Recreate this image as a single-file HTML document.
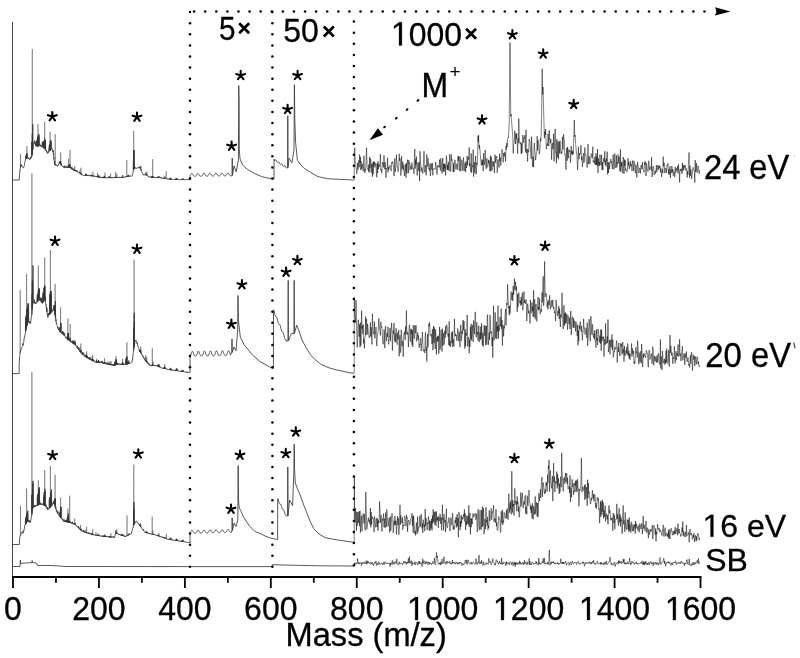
<!DOCTYPE html><html><head><meta charset="utf-8"><style>html,body{margin:0;padding:0;background:#fff;overflow:hidden}svg{display:block}</style></head><body><svg width="800" height="658" viewBox="0 0 800 658">
<defs><filter id="b" x="0" y="0" width="800" height="658" filterUnits="userSpaceOnUse"><feGaussianBlur stdDeviation="0.35"/></filter></defs>
<rect width="800" height="658" fill="#fff"/>
<g filter="url(#b)">
<polyline fill="none" stroke="#3a3a3a" stroke-width="0.85" stroke-linejoin="round" points="12.50,180.00 19.30,180.00 19.48,174.97 19.60,174.91 19.91,170.31 20.03,170.54 20.34,167.82 20.46,167.77 20.77,165.18 20.89,164.27 21.20,165.87 21.32,165.21 21.63,166.19 21.75,165.26 22.06,166.62 22.18,166.71 22.49,167.20 22.61,167.14 22.92,167.39 23.04,167.54 23.35,167.64 23.47,167.61 23.78,167.79 23.90,166.62 24.21,165.63 24.33,165.54 24.64,163.49 24.76,161.97 25.07,161.48 25.19,160.81 25.50,159.22 25.62,159.70 25.61,159.63 25.73,156.82 25.93,158.77 26.05,155.54 26.11,158.44 26.23,154.99 26.36,158.35 26.48,155.25 26.61,158.33 26.73,153.82 26.79,157.56 26.91,152.98 27.22,158.06 27.34,157.23 27.65,158.18 27.77,156.82 28.08,158.30 28.20,157.99 28.51,158.54 28.63,158.97 28.94,158.87 29.06,158.13 29.37,159.16 29.49,159.52 29.80,159.92 29.92,159.78 30.23,158.76 30.35,157.54 30.66,158.42 30.78,156.84 31.09,158.12 31.21,157.79 31.52,156.74 31.64,156.03 31.66,156.73 31.78,142.54 31.95,155.84 32.07,141.65 32.16,154.60 32.28,133.64 32.38,152.96 32.50,135.45 32.66,150.48 32.78,124.31 32.81,149.41 32.93,148.35 33.24,145.72 33.36,145.06 33.67,144.09 33.79,142.91 34.10,142.90 34.22,141.77 34.53,142.27 34.65,140.78 34.96,143.61 35.08,141.79 35.39,144.76 35.51,143.02 35.82,145.78 35.94,145.45 36.25,146.12 36.37,144.81 36.29,146.27 36.41,141.21 36.68,146.17 36.80,140.85 36.79,146.06 36.91,141.10 37.11,146.14 37.23,139.72 37.29,146.30 37.41,138.40 37.54,146.06 37.66,137.00 37.79,146.20 37.91,136.53 37.97,146.25 38.09,137.09 38.29,146.11 38.41,134.44 38.40,146.20 38.52,137.28 38.79,145.53 38.91,136.45 38.83,146.02 38.95,134.33 39.26,145.70 39.38,145.42 39.69,145.81 39.81,144.74 40.12,145.65 40.24,145.12 40.55,146.16 40.67,144.81 40.98,146.30 41.10,145.79 41.41,146.62 41.53,146.68 41.84,146.79 41.96,146.64 42.23,146.82 42.35,143.43 42.27,146.68 42.39,142.20 42.70,146.95 42.82,141.88 42.73,146.85 42.85,142.25 43.13,147.43 43.25,141.44 43.23,147.51 43.35,142.87 43.56,148.07 43.68,142.16 43.73,147.70 43.85,141.08 43.99,147.97 44.11,141.42 44.23,148.73 44.35,140.28 44.42,148.70 44.54,138.32 44.73,148.64 44.85,140.43 44.85,148.85 44.97,140.99 45.23,149.52 45.35,140.19 45.28,149.18 45.40,139.91 45.71,149.84 45.83,149.98 46.14,150.96 46.26,150.14 46.57,152.17 46.69,151.35 47.00,152.50 47.12,152.60 47.43,153.33 47.55,153.93 47.86,153.36 47.98,151.74 48.29,152.63 48.41,151.46 48.72,151.82 48.84,151.57 49.10,151.34 49.22,147.83 49.15,151.48 49.27,145.57 49.58,150.90 49.70,144.25 49.60,150.47 49.72,145.66 50.01,150.60 50.13,144.88 50.10,150.55 50.22,141.40 50.44,149.90 50.56,140.58 50.60,149.72 50.72,140.18 50.87,149.33 50.99,141.02 51.30,148.76 51.42,149.15 51.73,148.13 51.85,147.88 52.16,149.68 52.28,149.74 52.59,150.85 52.71,149.96 53.02,151.98 53.14,150.45 53.45,154.69 53.57,153.01 53.88,158.80 54.00,157.70 54.00,159.87 54.12,160.05 54.31,161.93 54.43,161.46 54.50,163.74 54.62,161.25 54.74,164.64 54.86,164.06 55.17,165.20 55.29,165.35 55.60,165.07 55.72,163.97 56.03,164.94 56.15,165.57 56.46,165.51 56.58,165.77 56.89,165.53 57.01,165.98 57.32,166.22 57.44,165.92 57.75,165.87 57.87,165.99 58.18,164.96 58.30,165.17 58.61,164.00 58.73,163.96 59.04,163.53 59.16,161.61 59.47,162.88 59.59,162.06 59.58,163.41 59.70,161.92 59.90,162.74 60.02,161.75 60.08,162.90 60.20,161.77 60.33,163.68 60.45,161.51 60.58,164.31 60.70,161.27 60.76,164.23 60.88,163.02 61.19,165.59 61.31,164.34 61.62,165.58 61.74,165.38 62.05,166.07 62.17,166.22 62.48,166.56 62.60,166.62 62.91,166.54 63.03,166.60 63.34,166.41 63.46,166.28 63.77,167.35 63.89,166.89 64.20,167.56 64.32,165.63 64.63,167.10 64.75,167.78 65.06,167.73 65.18,166.29 65.49,167.70 65.61,167.87 65.92,167.32 66.04,167.49 66.35,167.94 66.47,167.30 66.78,167.52 66.90,165.70 67.21,167.91 67.33,167.90 67.64,167.93 67.76,167.19 68.07,167.53 68.19,166.72 68.18,167.38 68.30,166.51 68.50,167.30 68.62,165.44 68.68,167.47 68.80,165.29 68.93,167.98 69.05,165.55 69.18,167.27 69.30,165.40 69.36,167.29 69.48,164.36 69.68,167.43 69.80,164.39 69.79,167.88 69.91,164.73 70.22,167.84 70.34,167.89 70.65,168.20 70.77,167.55 71.08,168.47 71.20,168.22 71.51,168.88 71.63,166.96 71.94,169.44 72.06,167.70 72.37,169.31 72.49,169.14 72.80,169.73 72.92,168.81 73.23,169.49 73.35,169.56 73.34,169.78 73.46,169.93 73.66,170.29 73.78,170.00 73.84,170.33 73.96,169.97 74.09,170.54 74.21,169.70 74.34,170.63 74.46,169.81 74.52,170.72 74.64,169.68 74.95,170.91 75.07,170.93 75.38,170.83 75.50,170.89 75.81,171.23 75.93,169.95 76.24,171.12 76.36,171.31 76.67,171.74 76.79,170.58 77.10,171.56 77.22,170.67 77.53,171.89 77.65,172.10 77.96,172.32 78.08,172.29 78.39,172.38 78.51,172.05 78.82,172.59 78.94,172.30 79.25,172.69 79.37,172.92 79.36,172.70 79.48,173.13 79.68,173.27 79.80,173.23 79.86,173.33 79.98,173.31 80.11,173.47 80.23,173.29 80.36,173.95 80.48,173.22 80.54,174.09 80.66,172.92 80.97,174.09 81.09,173.30 81.40,174.51 81.52,173.48 81.83,174.96 81.95,175.06 82.26,175.23 82.38,175.09 82.69,175.34 82.81,175.29 83.12,175.50 83.24,175.52 83.55,175.51 83.67,175.15 83.98,175.33 84.10,175.65 84.41,175.42 84.53,175.02 84.84,175.42 84.96,175.50 85.27,175.44 85.39,174.91 85.38,175.62 85.50,175.09 85.70,175.60 85.82,174.74 85.88,175.79 86.00,174.65 86.13,175.61 86.25,174.28 86.38,175.51 86.50,174.11 86.56,175.76 86.68,175.56 86.99,175.73 87.11,175.03 87.42,175.83 87.54,175.76 87.85,175.61 87.97,174.86 88.28,175.88 88.40,175.37 88.71,175.93 88.83,175.30 89.14,175.85 89.26,175.82 89.57,175.94 89.69,175.77 90.00,176.04 90.12,174.96 90.43,176.11 90.55,175.56 90.86,176.08 90.98,176.12 91.29,175.92 91.41,175.02 91.40,176.17 91.52,175.67 91.72,176.05 91.84,175.53 91.90,175.97 92.02,175.51 92.15,176.06 92.27,175.43 92.40,176.12 92.52,175.32 92.58,176.23 92.70,175.83 93.01,176.22 93.13,176.20 93.44,176.17 93.56,176.07 93.87,176.33 93.99,175.93 94.30,176.54 94.42,175.67 94.73,176.55 94.85,176.65 95.16,176.57 95.28,176.71 95.59,176.80 95.71,176.34 96.02,176.73 96.14,176.23 96.45,176.69 96.57,176.69 96.88,177.01 97.00,176.17 97.31,176.85 97.43,177.08 97.42,176.92 97.54,176.57 97.74,177.12 97.86,176.29 97.92,176.96 98.04,176.04 98.17,177.27 98.29,176.16 98.42,177.23 98.54,175.47 98.60,177.07 98.72,177.22 99.03,177.24 99.15,177.33 99.46,177.30 99.58,176.48 99.89,177.39 100.01,176.96 100.32,177.63 100.44,176.90 100.75,177.53 100.87,177.24 101.18,177.57 101.30,176.93 101.61,177.92 101.73,176.99 102.04,177.88 102.16,177.78 102.47,177.96 102.59,177.16 102.90,178.09 103.02,177.95 103.33,177.84 103.45,177.93 103.44,178.04 103.56,177.46 103.76,177.92 103.88,177.07 103.94,177.80 104.06,176.89 104.19,177.91 104.31,176.76 104.44,177.79 104.56,176.12 104.62,178.05 104.74,177.19 105.05,177.88 105.17,177.32 105.48,178.09 105.60,177.80 105.91,177.85 106.03,178.02 106.34,178.00 106.46,178.07 106.77,177.85 106.89,177.96 107.20,178.07 107.32,177.86 107.63,177.99 107.75,177.85 108.06,177.99 108.18,177.43 108.49,177.92 108.61,177.47 108.92,177.86 109.04,177.19 109.35,177.94 109.47,177.82 109.46,177.81 109.58,177.61 109.78,177.96 109.90,177.51 109.96,177.96 110.08,177.29 110.21,177.94 110.33,177.11 110.46,177.88 110.58,177.04 110.64,177.90 110.76,177.89 111.07,178.06 111.19,177.43 111.50,177.79 111.62,177.90 111.93,177.78 112.05,177.07 112.36,177.83 112.48,178.09 112.79,177.81 112.91,177.13 113.22,177.88 113.34,177.45 113.65,177.91 113.77,177.44 114.08,177.91 114.20,177.33 114.51,178.02 114.63,177.94 114.94,177.79 115.06,177.11 115.37,177.74 115.49,177.93 115.48,177.80 115.60,177.50 115.80,177.92 115.92,177.29 115.98,177.95 116.10,177.24 116.23,177.94 116.35,177.14 116.48,177.68 116.60,177.00 116.66,177.90 116.78,177.54 117.09,177.74 117.21,177.51 117.52,177.83 117.64,177.52 117.95,177.59 118.07,177.57 118.38,177.69 118.50,177.60 118.81,177.75 118.93,176.88 119.24,177.65 119.36,177.15 119.67,177.67 119.79,177.05 120.10,177.64 120.22,177.34 120.53,177.45 120.65,176.89 120.96,177.40 121.08,177.19 121.39,177.43 121.51,177.04 121.50,177.60 121.62,177.28 121.82,177.54 121.94,177.10 122.00,177.60 122.12,177.12 122.25,177.54 122.37,176.93 122.50,177.56 122.62,176.86 122.68,177.50 122.80,177.40 123.11,177.58 123.23,177.48 123.54,177.28 123.66,176.88 123.97,177.50 124.09,177.44 124.40,177.50 124.52,177.32 124.83,177.39 124.95,176.97 125.26,177.12 125.38,176.97 125.69,177.00 125.81,176.47 126.12,176.99 126.24,176.25 126.55,177.04 126.67,176.69 126.98,176.78 127.10,176.91 127.41,176.69 127.53,176.02 127.52,176.73 127.64,176.21 127.84,176.66 127.96,175.62 128.02,176.58 128.14,175.70 128.27,176.34 128.39,175.27 128.52,176.35 128.64,175.28 128.70,176.36 128.82,176.11 129.13,176.22 129.25,176.02 129.56,176.29 129.68,176.34 129.99,176.26 130.11,176.38 130.42,176.08 130.54,175.68 130.85,176.26 130.97,176.03 131.28,176.21 131.40,175.89 131.71,176.14 131.83,176.26 132.14,176.00 132.26,175.56 132.57,174.95 132.69,174.11 133.00,172.34 133.12,172.25 133.31,170.17 133.44,160.51 133.43,169.68 133.55,159.43 133.81,169.36 133.94,150.19 133.86,169.12 133.98,150.03 134.29,168.74 134.41,167.91 134.72,167.99 134.84,167.49 135.15,168.08 135.27,168.05 135.58,168.32 135.70,167.52 136.01,168.47 136.13,168.53 136.44,168.48 136.56,168.57 136.87,168.28 136.99,168.23 137.30,168.07 137.42,167.80 137.73,167.81 137.85,167.79 138.16,167.67 138.28,167.21 138.59,167.62 138.71,167.54 139.02,167.64 139.14,167.45 139.45,167.34 139.57,167.11 139.56,167.50 139.68,168.14 139.88,167.28 140.00,168.14 140.06,167.69 140.18,168.57 140.31,168.30 140.43,168.77 140.56,169.07 140.68,168.96 140.74,169.30 140.86,169.39 141.17,170.60 141.29,169.76 141.60,171.46 141.72,171.50 142.03,172.69 142.15,172.70 142.46,173.50 142.58,173.73 142.89,174.69 143.01,174.61 143.32,174.91 143.44,174.36 143.75,174.90 143.87,174.42 144.18,174.89 144.30,174.85 144.61,174.98 144.73,174.94 145.04,174.77 145.16,174.27 145.47,174.81 145.59,174.72 145.58,174.90 145.70,174.83 145.90,174.81 146.02,174.78 146.08,175.09 146.20,174.87 146.33,175.09 146.45,174.75 146.58,175.22 146.70,174.85 146.76,175.46 146.88,174.91 147.19,175.79 147.31,175.64 147.62,176.06 147.74,175.83 148.05,176.19 148.17,176.00 148.48,176.61 148.60,176.24 148.91,176.70 149.03,176.47 149.34,177.01 149.46,177.12 149.77,177.38 149.89,176.79 150.20,177.26 150.32,176.76 150.63,177.31 150.75,177.02 151.06,177.39 151.18,177.44 151.49,177.57 151.61,176.82 151.60,177.53 151.72,176.65 151.92,177.44 152.04,176.31 152.10,177.51 152.22,176.11 152.35,177.39 152.47,176.07 152.60,177.60 152.72,176.12 152.78,177.41 152.90,176.83 153.21,177.42 153.33,177.62 153.64,177.46 153.76,177.57 154.07,177.70 154.19,176.99 154.50,177.65 154.62,177.73 154.93,177.55 155.05,177.00 155.36,177.56 155.48,177.57 155.79,177.71 155.91,177.65 156.22,177.58 156.34,177.75 156.65,177.72 156.77,177.25 157.08,177.62 157.20,177.75 157.51,177.83 157.63,177.68 157.62,177.71 157.74,177.33 157.94,177.88 158.06,177.00 158.12,177.75 158.24,176.79 158.37,177.72 158.49,177.01 158.62,177.73 158.74,176.36 158.80,177.83 158.92,177.95 159.23,177.75 159.35,177.60 159.66,177.97 159.78,177.70 160.09,177.80 160.21,177.31 160.52,178.08 160.64,177.83 160.95,177.98 161.07,177.55 161.38,178.22 161.50,177.47 161.81,178.22 161.93,178.06 162.24,178.18 162.36,178.33 162.67,178.41 162.79,178.26 163.10,178.29 163.22,178.44 163.53,178.50 163.65,178.18 163.64,178.53 163.76,178.11 163.96,178.46 164.08,177.95 164.14,178.52 164.26,178.07 164.39,178.50 164.51,177.71 164.64,178.51 164.76,177.57 164.82,178.53 164.94,178.24 165.25,178.80 165.37,178.60 165.68,178.80 165.80,178.81 166.11,178.91 166.23,178.93 166.54,178.94 166.66,178.72 166.97,178.90 167.09,178.95 167.40,178.93 167.52,178.54 167.83,179.03 167.95,179.02 168.26,179.22 168.38,178.67 168.69,179.18 168.81,179.25 169.12,179.34 169.24,179.28 169.55,179.45 169.67,179.29 169.66,179.46 169.78,179.25 169.98,179.45 170.10,178.49 170.16,179.48 170.28,178.29 170.41,179.36 170.53,177.97 170.66,179.32 170.78,177.83 170.84,179.46 170.96,178.94 171.27,179.37 171.39,179.53 171.70,179.47 171.82,179.46 172.13,179.34 172.25,179.24 172.56,179.47 172.68,179.45 172.99,179.43 173.11,179.22 173.42,179.46 173.54,179.52 173.85,179.46 173.97,179.32 174.28,179.58 174.40,179.58 174.71,179.45 174.83,178.95 175.14,179.44 175.26,179.11 175.57,179.56 175.69,178.99 175.68,179.51 175.80,179.19 176.00,179.51 176.12,178.48 176.18,179.48 176.30,178.44 176.43,179.63 176.55,178.15 176.68,179.54 176.80,178.22 176.86,179.48 176.98,179.60 177.29,179.62 177.41,179.63 177.72,179.59 177.84,179.03 178.15,179.55 178.27,179.11 178.58,179.67 178.70,179.69 179.01,179.55 179.13,179.57 179.44,179.65 179.56,179.61 179.87,179.68 179.99,179.53 180.30,179.75 180.42,179.30 180.73,179.61 180.85,179.70 181.16,179.68 181.28,179.46 181.59,179.77 181.71,179.65 181.70,179.60 181.82,179.59 182.02,179.69 182.14,179.09 182.20,179.64 182.32,178.84 182.45,179.63 182.57,178.66 182.70,179.76 182.82,178.63 182.88,179.76 183.00,179.50 183.31,179.81 183.43,179.37 183.74,179.68 183.86,179.64 184.17,179.74 184.29,179.66 184.60,179.81 184.72,179.85 185.03,179.75 185.15,179.29 185.46,179.79 185.58,179.75 185.89,179.75 186.01,179.47 186.32,179.86 186.44,179.44 186.75,179.80 186.87,179.85 187.18,179.83 187.30,179.70 187.61,179.88 187.73,179.88 188.04,179.89 188.16,179.55 188.47,179.96 188.59,179.56 188.90,179.94 189.02,179.41 189.33,179.82 189.45,179.79 189.76,179.96 189.88,179.92 190.00,180.00 190.00,180.00 190.10,176.00 190.30,175.40 190.70,174.68 191.10,173.98 191.50,173.50 191.90,173.39 192.30,173.68 192.70,174.29 193.10,175.01 193.50,175.66 193.90,176.10 194.30,176.30 194.70,176.34 195.10,176.32 195.50,176.22 195.90,175.90 196.30,175.35 196.70,174.63 197.10,173.92 197.50,173.43 197.90,173.30 198.30,173.57 198.70,174.16 199.10,174.89 199.50,175.55 199.90,176.00 200.30,176.21 200.70,176.25 201.10,176.24 201.50,176.14 201.90,175.84 202.30,175.29 202.70,174.58 203.10,173.87 203.50,173.36 203.90,173.21 204.30,173.46 204.70,174.04 205.10,174.77 205.50,175.43 205.90,175.90 206.30,176.12 206.70,176.16 207.10,176.15 207.50,176.06 207.90,175.77 208.30,175.24 208.70,174.53 209.10,173.81 209.50,173.29 209.90,173.12 210.30,173.36 210.70,173.92 211.10,174.64 211.50,175.32 211.90,175.79 212.30,176.02 212.70,176.07 213.10,176.07 213.50,175.98 213.90,175.71 214.30,175.18 214.70,174.48 215.10,173.76 215.50,173.22 215.90,173.03 216.30,173.25 216.70,173.80 217.10,174.52 217.50,175.20 217.90,175.69 218.30,175.93 218.70,175.99 219.10,175.98 219.50,175.90 219.90,175.64 220.30,175.13 220.70,174.43 221.10,173.70 221.50,173.15 221.90,172.94 222.30,173.14 222.70,173.68 223.10,174.40 223.50,175.08 223.90,175.58 224.30,175.84 224.70,175.90 225.10,175.90 225.50,175.83 225.90,175.57 226.30,175.07 226.70,174.38 227.10,173.65 227.50,173.09 227.90,172.86 228.30,173.03 228.70,173.56 229.10,174.27 229.50,174.96 229.90,175.48 230.30,175.74 230.70,175.81 231.10,175.81 231.50,175.75 231.90,175.50 232.05,175.50 232.25,158.10 232.45,175.50 234.00,166.00 236.25,171.90 238.40,160.00 238.75,85.60 239.10,102.00 239.30,150.00 240.00,158.75 242.50,165.00 247.50,169.40 255.00,173.75 262.50,176.90 271.25,178.75 273.80,179.00 274.00,179.00 274.10,159.00 274.30,160.50 274.70,160.66 275.10,160.39 275.50,159.90 275.90,159.95 276.30,160.76 276.70,161.74 277.10,162.27 277.50,162.53 277.90,162.50 278.30,162.04 278.70,161.73 279.10,162.19 279.50,163.19 279.90,163.97 280.30,164.32 280.70,164.48 281.10,164.21 281.50,163.72 281.90,163.76 282.30,164.58 282.70,165.55 283.10,166.09 283.50,166.34 283.90,166.32 284.30,165.85 284.70,165.55 285.10,166.01 285.50,167.01 285.90,167.79 286.30,168.14 286.80,167.70 287.60,167.70 287.80,115.70 288.00,167.70 289.00,158.00 291.90,162.90 294.00,150.00 294.40,84.70 294.80,120.00 295.60,142.40 296.40,150.00 297.40,160.20 300.00,164.00 304.20,168.40 311.00,172.50 317.90,176.60 327.50,178.70 338.40,179.30 353.60,180.00"/>
<polyline fill="none" stroke="#3a3a3a" stroke-width="0.85" stroke-linejoin="round" points="12.50,373.60 19.10,373.60 19.28,361.79 19.40,361.73 19.71,355.65 19.83,354.55 20.14,352.28 20.26,351.82 20.57,350.60 20.69,350.46 21.00,349.33 21.12,349.46 21.43,348.86 21.55,347.84 21.86,347.55 21.98,347.30 22.29,346.75 22.41,346.49 22.72,345.87 22.84,343.59 23.15,345.25 23.27,344.66 23.58,342.60 23.70,342.45 24.01,340.01 24.13,338.10 24.44,337.52 24.56,337.83 24.87,335.39 24.99,335.03 25.30,333.80 25.42,333.79 25.43,332.37 25.55,322.45 25.73,330.93 25.85,317.61 25.93,330.33 26.05,316.27 26.16,329.02 26.28,315.42 26.43,327.79 26.55,311.44 26.59,326.85 26.71,310.23 26.93,325.38 27.05,308.54 27.02,325.33 27.14,309.01 27.43,324.48 27.55,308.24 27.45,324.62 27.57,311.10 27.88,323.19 28.00,305.06 27.93,322.67 28.05,303.40 28.31,321.65 28.43,305.71 28.43,321.56 28.55,303.68 28.74,321.97 28.86,321.28 29.17,322.44 29.29,322.38 29.60,322.96 29.72,321.45 30.03,322.66 30.15,323.52 30.46,322.94 30.58,323.30 30.89,320.14 31.01,319.59 31.32,317.18 31.44,316.91 31.75,314.62 31.87,312.90 31.86,313.50 31.98,294.54 32.18,310.34 32.30,281.94 32.36,308.03 32.48,280.01 32.61,305.60 32.73,282.11 32.86,302.35 32.98,265.41 33.04,302.72 33.16,303.04 33.47,302.24 33.59,303.15 33.90,303.21 34.02,303.14 34.33,302.88 34.45,299.73 34.76,303.45 34.88,302.82 35.19,303.20 35.31,302.69 35.62,303.72 35.74,302.28 36.05,303.38 36.17,303.40 36.48,302.81 36.60,302.03 36.91,302.38 37.03,300.83 37.19,301.29 37.30,295.09 37.34,302.01 37.46,296.82 37.69,300.98 37.80,294.03 37.77,301.59 37.89,295.37 38.19,300.57 38.30,292.56 38.20,300.31 38.32,290.80 38.63,300.83 38.75,289.60 38.69,300.10 38.80,288.60 39.06,300.13 39.18,291.36 39.19,299.84 39.30,288.45 39.49,299.03 39.61,298.80 39.92,299.93 40.04,297.54 40.35,300.68 40.47,298.27 40.78,301.01 40.90,297.78 41.21,302.29 41.33,298.38 41.64,302.23 41.76,299.45 42.07,303.27 42.19,300.97 42.50,303.12 42.62,301.76 42.69,303.23 42.80,296.67 42.93,302.02 43.05,292.61 43.19,302.19 43.30,294.08 43.36,301.22 43.48,292.19 43.69,300.57 43.80,292.37 43.79,301.36 43.91,287.89 44.19,300.65 44.30,287.59 44.22,300.96 44.34,287.13 44.65,299.69 44.77,286.61 44.69,299.50 44.80,285.54 45.08,300.36 45.20,296.97 45.51,303.09 45.63,303.35 45.94,305.26 46.06,304.63 46.37,308.48 46.49,306.79 46.80,312.04 46.92,308.08 47.23,314.76 47.35,314.73 47.66,317.37 47.78,317.53 48.09,317.37 48.21,313.32 48.52,315.78 48.64,315.00 48.95,314.59 49.07,314.25 49.00,314.53 49.12,312.82 49.38,314.73 49.50,302.77 49.50,313.72 49.62,302.37 49.81,314.55 49.93,294.09 50.00,313.35 50.12,293.95 50.24,313.76 50.36,291.23 50.50,313.54 50.62,291.02 50.67,312.65 50.79,295.77 51.00,312.38 51.12,294.35 51.10,312.58 51.22,291.36 51.53,312.44 51.65,308.76 51.96,311.69 52.08,310.66 52.39,310.93 52.51,311.21 52.82,309.86 52.94,310.65 53.25,310.02 53.37,308.07 53.68,309.34 53.80,305.12 54.11,308.42 54.23,306.79 54.28,310.66 54.40,307.11 54.54,311.12 54.66,305.52 54.78,313.97 54.90,307.16 54.97,314.68 55.09,305.64 55.28,316.29 55.40,300.99 55.40,318.25 55.52,313.72 55.83,321.00 55.95,319.35 56.26,323.15 56.38,322.70 56.69,324.13 56.81,324.32 57.12,325.85 57.24,325.95 57.55,326.57 57.67,327.44 57.98,328.54 58.10,327.21 58.41,329.69 58.53,328.46 58.84,329.97 58.96,328.74 59.27,330.74 59.39,330.66 59.70,330.66 59.82,331.52 59.86,331.92 59.98,327.41 60.13,332.13 60.25,326.91 60.36,332.10 60.48,326.11 60.56,332.05 60.68,322.84 60.86,332.35 60.98,323.38 60.99,332.00 61.11,332.39 61.42,332.98 61.54,333.32 61.85,333.48 61.97,332.87 62.28,333.83 62.40,331.10 62.71,334.34 62.83,333.65 63.14,334.26 63.26,331.70 63.57,335.03 63.69,332.86 64.00,335.48 64.12,335.91 64.43,335.35 64.55,333.34 64.86,335.93 64.98,336.15 65.29,336.97 65.41,337.64 65.72,337.68 65.84,337.68 66.15,337.50 66.27,338.25 66.58,337.79 66.70,338.32 67.01,338.84 67.13,339.26 67.10,338.54 67.22,336.06 67.44,339.11 67.56,335.30 67.60,339.49 67.72,335.46 67.87,339.99 67.99,332.99 68.10,340.00 68.22,332.94 68.30,340.32 68.42,333.32 68.73,339.92 68.85,337.57 69.16,340.66 69.28,340.15 69.59,340.74 69.71,338.79 70.02,340.68 70.14,338.03 70.45,341.37 70.57,340.77 70.88,342.19 71.00,340.84 71.31,342.00 71.43,341.62 71.74,342.37 71.86,341.42 72.17,342.20 72.29,341.96 72.60,343.49 72.72,340.73 73.03,342.72 73.15,340.76 73.34,343.63 73.46,343.19 73.46,343.82 73.58,343.28 73.84,343.73 73.96,343.21 73.89,343.38 74.01,342.69 74.32,343.52 74.44,342.35 74.34,344.32 74.46,342.33 74.75,344.37 74.87,341.80 75.18,344.90 75.30,341.79 75.61,344.99 75.73,345.78 76.04,345.40 76.16,346.34 76.47,346.11 76.59,345.98 76.90,347.00 77.02,347.62 77.33,348.10 77.45,345.97 77.76,348.67 77.88,346.91 78.19,348.99 78.31,348.75 78.62,349.87 78.74,348.05 79.05,349.67 79.17,350.29 79.36,350.49 79.48,351.05 79.48,350.37 79.60,351.15 79.86,351.35 79.98,351.34 79.91,351.55 80.03,351.27 80.34,351.65 80.46,351.18 80.36,351.60 80.48,351.24 80.77,351.93 80.89,350.43 81.20,353.26 81.32,350.13 81.63,353.11 81.75,353.89 82.06,354.48 82.18,354.39 82.49,354.01 82.61,352.38 82.92,354.81 83.04,352.49 83.35,354.57 83.47,354.82 83.78,355.26 83.90,353.65 84.21,356.02 84.33,356.23 84.64,355.54 84.76,356.51 85.07,356.62 85.19,356.39 85.38,356.79 85.50,356.03 85.50,356.08 85.62,355.96 85.88,357.07 86.00,355.38 85.93,356.95 86.05,355.28 86.36,357.31 86.48,355.07 86.38,357.34 86.50,354.52 86.79,357.30 86.91,355.79 87.22,358.10 87.34,356.30 87.65,357.50 87.77,357.19 88.08,358.58 88.20,357.39 88.51,358.74 88.63,359.02 88.94,359.26 89.06,357.24 89.37,358.89 89.49,359.48 89.80,359.33 89.92,357.17 90.23,359.73 90.35,358.45 90.66,359.76 90.78,359.76 91.09,360.01 91.21,360.11 91.40,359.76 91.52,359.89 91.52,360.56 91.64,359.62 91.90,360.11 92.02,359.57 91.95,360.64 92.07,359.42 92.38,360.51 92.50,359.35 92.40,360.38 92.52,358.82 92.81,360.68 92.93,361.12 93.24,360.85 93.36,359.44 93.67,361.40 93.79,359.99 94.10,361.47 94.22,361.96 94.53,362.15 94.65,362.21 94.96,362.32 95.08,361.72 95.39,361.81 95.51,361.68 95.82,361.92 95.94,362.35 96.25,362.56 96.37,360.08 96.68,362.13 96.80,361.97 97.11,362.51 97.23,361.18 97.42,362.49 97.54,361.63 97.54,362.40 97.66,361.77 97.92,362.23 98.04,361.11 97.97,362.78 98.09,361.01 98.40,362.66 98.52,360.53 98.42,362.87 98.54,360.38 98.83,362.41 98.95,361.73 99.26,363.01 99.38,363.00 99.69,362.48 99.81,361.21 100.12,362.53 100.24,362.98 100.55,362.86 100.67,362.63 100.98,363.04 101.10,362.56 101.41,362.93 101.53,361.53 101.84,362.98 101.96,361.45 102.27,363.11 102.39,361.54 102.70,363.14 102.82,362.81 103.13,363.11 103.25,363.60 103.44,363.07 103.56,363.04 103.56,363.25 103.68,363.00 103.94,363.44 104.06,362.38 103.99,363.28 104.11,362.71 104.42,363.70 104.54,362.23 104.44,363.28 104.56,361.93 104.85,363.70 104.97,363.91 105.28,363.90 105.40,362.93 105.71,363.79 105.83,362.34 106.14,364.16 106.26,364.21 106.57,364.07 106.69,364.24 107.00,364.37 107.12,362.70 107.43,364.41 107.55,364.42 107.86,364.37 107.98,363.77 108.29,364.64 108.41,364.19 108.72,364.54 108.84,363.35 109.15,364.89 109.27,363.34 109.46,364.76 109.58,364.63 109.58,364.60 109.70,364.52 109.96,364.99 110.08,364.44 110.01,364.58 110.13,364.38 110.44,364.64 110.56,364.13 110.46,365.02 110.58,364.19 110.87,364.83 110.99,365.09 111.30,365.02 111.42,363.99 111.73,365.20 111.85,364.17 112.16,365.18 112.28,364.10 112.59,365.33 112.71,365.44 113.02,365.64 113.14,364.77 113.45,365.41 113.57,364.19 113.88,365.71 114.00,365.73 114.31,365.18 114.43,365.69 114.63,365.13 114.75,363.16 114.74,365.52 114.86,362.48 115.13,365.28 115.25,361.98 115.17,365.21 115.29,360.96 115.48,365.02 115.60,361.36 115.60,364.90 115.72,361.26 115.63,364.88 115.75,360.41 115.98,364.73 116.10,360.44 116.03,364.66 116.15,358.84 116.46,364.55 116.58,362.89 116.48,364.60 116.60,363.19 116.89,364.72 117.01,363.69 117.32,364.21 117.44,364.62 117.75,364.49 117.87,363.09 118.18,364.43 118.30,363.75 118.61,364.08 118.73,364.39 119.04,364.20 119.16,363.67 119.47,364.22 119.59,364.36 119.90,364.47 120.02,363.73 120.33,364.55 120.45,364.09 120.76,364.61 120.88,363.95 121.19,364.31 121.31,364.24 121.50,364.46 121.62,364.14 121.62,364.36 121.74,364.21 122.00,364.33 122.12,363.80 122.05,364.34 122.17,363.64 122.48,364.45 122.60,363.50 122.50,364.80 122.62,363.73 122.91,364.53 123.03,363.74 123.34,364.74 123.46,363.43 123.77,364.54 123.89,364.36 124.20,364.54 124.32,364.20 124.63,364.58 124.75,364.59 125.06,364.58 125.18,363.78 125.49,364.46 125.61,364.49 125.60,364.57 125.72,361.14 125.92,364.45 126.04,358.49 126.10,364.52 126.22,358.58 126.35,364.38 126.47,357.82 126.60,364.28 126.72,356.30 126.78,364.38 126.90,356.84 127.21,364.06 127.33,362.89 127.52,364.09 127.64,363.28 127.64,364.10 127.76,362.87 128.02,363.85 128.14,362.12 128.07,363.78 128.19,362.20 128.50,363.53 128.62,362.08 128.52,363.86 128.64,361.42 128.93,363.57 129.05,363.18 129.36,363.50 129.48,363.42 129.79,363.26 129.91,363.34 130.22,363.29 130.34,362.94 130.65,363.05 130.77,362.96 131.08,362.67 131.20,362.21 131.51,362.46 131.63,362.35 131.94,362.38 132.06,361.78 132.37,359.68 132.49,360.06 132.80,356.54 132.92,356.53 133.23,352.80 133.35,352.40 133.63,350.17 133.75,334.63 133.66,350.10 133.78,327.79 134.09,347.02 134.21,321.20 134.13,346.96 134.25,312.82 134.52,344.16 134.64,344.04 134.95,341.69 135.07,341.36 135.38,340.92 135.50,340.00 135.81,340.63 135.93,340.60 136.24,341.24 136.36,340.94 136.67,342.35 136.79,342.50 137.10,343.74 137.22,342.57 137.53,344.91 137.65,345.03 137.96,346.43 138.08,346.23 138.39,347.39 138.51,347.69 138.82,348.77 138.94,348.97 139.25,350.01 139.37,349.96 139.56,351.05 139.68,350.60 139.68,351.25 139.80,350.73 140.06,351.88 140.18,350.78 140.11,351.83 140.23,350.73 140.54,352.76 140.66,350.26 140.56,352.46 140.68,350.36 140.97,353.39 141.09,352.35 141.40,354.12 141.52,354.16 141.83,354.86 141.95,354.90 142.26,355.35 142.38,354.57 142.69,356.20 142.81,356.03 143.12,356.87 143.24,356.40 143.55,357.58 143.67,357.14 143.98,358.53 144.10,358.02 144.41,359.06 144.53,358.60 144.84,359.96 144.96,359.95 145.27,360.56 145.39,360.08 145.58,360.94 145.70,360.78 145.70,360.95 145.82,360.83 146.08,361.49 146.20,361.01 146.13,361.54 146.25,360.94 146.56,362.04 146.68,360.98 146.58,362.06 146.70,360.71 146.99,362.45 147.11,361.99 147.42,363.00 147.54,362.70 147.85,363.52 147.97,362.72 148.28,363.81 148.40,362.94 148.71,364.30 148.83,363.41 149.14,364.84 149.26,364.73 149.57,365.26 149.69,364.40 150.00,365.85 150.12,365.61 150.43,365.76 150.55,365.83 150.86,365.62 150.98,365.55 151.29,365.74 151.41,365.85 151.60,365.81 151.72,365.40 151.72,365.60 151.84,365.23 152.10,365.84 152.22,365.11 152.15,365.72 152.27,364.84 152.58,365.67 152.70,364.85 152.60,365.65 152.72,364.36 153.01,365.65 153.13,364.78 153.44,365.63 153.56,365.69 153.87,365.87 153.99,365.42 154.30,365.58 154.42,365.66 154.73,365.78 154.85,365.31 155.16,365.67 155.28,365.24 155.59,365.75 155.71,365.83 156.02,365.86 156.14,365.11 156.45,366.02 156.57,365.61 156.88,365.99 157.00,366.08 157.31,366.15 157.43,366.18 157.62,366.34 157.74,365.51 157.74,366.45 157.86,365.66 158.12,366.55 158.24,364.86 158.17,366.62 158.29,365.38 158.60,366.80 158.72,364.60 158.62,366.71 158.74,364.63 159.03,366.86 159.15,366.73 159.46,367.03 159.58,366.34 159.89,367.49 160.01,366.79 160.32,367.62 160.44,367.68 160.75,367.76 160.87,367.47 161.18,367.75 161.30,367.99 161.61,368.16 161.73,367.93 162.04,368.10 162.16,368.02 162.47,368.26 162.59,367.91 162.90,368.40 163.02,368.59 163.33,368.60 163.45,368.51 163.64,368.64 163.76,368.46 163.76,368.71 163.88,367.61 164.14,368.75 164.26,367.38 164.19,368.72 164.31,367.22 164.62,368.72 164.74,367.24 164.64,368.93 164.76,366.67 165.05,368.79 165.17,368.71 165.48,369.03 165.60,368.33 165.91,368.95 166.03,369.12 166.34,369.13 166.46,368.71 166.77,369.16 166.89,369.15 167.20,369.26 167.32,369.41 167.63,369.43 167.75,368.90 168.06,369.47 168.18,369.46 168.49,369.64 168.61,369.53 168.92,369.62 169.04,369.71 169.35,369.79 169.47,369.87 169.66,369.72 169.78,369.72 169.78,369.86 169.90,369.40 170.16,369.83 170.28,369.14 170.21,369.85 170.33,369.15 170.64,370.14 170.76,368.54 170.66,370.12 170.78,368.68 171.07,370.05 171.19,369.97 171.50,370.07 171.62,370.04 171.93,370.34 172.05,369.61 172.36,370.27 172.48,370.42 172.79,370.44 172.91,370.32 173.22,370.42 173.34,369.78 173.65,370.48 173.77,370.51 174.08,370.48 174.20,370.33 174.51,370.61 174.63,370.52 174.94,370.58 175.06,370.75 175.37,370.86 175.49,370.10 175.68,370.65 175.80,370.34 175.80,370.71 175.92,369.69 176.18,370.72 176.30,369.63 176.23,370.76 176.35,369.48 176.66,370.88 176.78,368.66 176.68,370.79 176.80,368.47 177.09,370.97 177.21,370.84 177.52,371.04 177.64,370.43 177.95,371.15 178.07,370.53 178.38,371.17 178.50,371.16 178.81,371.21 178.93,371.18 179.24,371.34 179.36,371.30 179.67,371.40 179.79,371.25 180.10,371.40 180.22,371.34 180.53,371.46 180.65,370.82 180.96,371.39 181.08,371.25 181.39,371.61 181.51,371.44 181.70,371.52 181.82,371.38 181.82,371.56 181.94,370.73 182.20,371.66 182.32,370.22 182.25,371.68 182.37,370.05 182.68,371.79 182.80,369.95 182.70,371.64 182.82,370.06 183.11,371.69 183.23,371.49 183.54,371.83 183.66,371.82 183.97,371.99 184.09,371.69 184.40,371.94 184.52,371.76 184.83,372.06 184.95,371.92 185.26,372.18 185.38,372.11 185.69,372.21 185.81,371.90 186.12,372.09 186.24,372.29 186.55,372.29 186.67,371.75 186.98,372.38 187.10,372.19 187.41,372.42 187.53,371.77 187.84,372.38 187.96,371.99 188.27,372.59 188.39,372.60 188.70,372.59 188.82,372.39 189.13,372.39 189.25,371.98 189.56,372.54 189.68,372.26 190.00,372.60 190.00,372.60 190.10,354.70 190.30,355.89 190.70,355.14 191.10,354.04 191.50,352.81 191.90,351.79 192.30,351.28 192.70,351.45 193.10,352.23 193.50,353.38 193.90,354.57 194.30,355.49 194.70,356.02 195.10,356.19 195.50,356.20 195.90,356.13 196.30,355.80 196.70,355.07 197.10,353.98 197.50,352.75 197.90,351.71 198.30,351.17 198.70,351.30 199.10,352.06 199.50,353.20 199.90,354.39 200.30,355.34 200.70,355.88 201.10,356.07 201.50,356.08 201.90,356.02 202.30,355.71 202.70,355.00 203.10,353.92 203.50,352.69 203.90,351.64 204.30,351.07 204.70,351.16 205.10,351.89 205.50,353.02 205.90,354.22 206.30,355.18 206.70,355.75 207.10,355.95 207.50,355.96 207.90,355.91 208.30,355.61 208.70,354.93 209.10,353.87 209.50,352.64 209.90,351.56 210.30,350.96 210.70,351.02 211.10,351.72 211.50,352.84 211.90,354.04 212.30,355.02 212.70,355.61 213.10,355.83 213.50,355.84 213.90,355.80 214.30,355.52 214.70,354.85 215.10,353.81 215.50,352.58 215.90,351.49 216.30,350.86 216.70,350.89 217.10,351.56 217.50,352.66 217.90,353.87 218.30,354.87 218.70,355.47 219.10,355.70 219.50,355.73 219.90,355.68 220.30,355.42 220.70,354.78 221.10,353.75 221.50,352.52 221.90,351.42 222.30,350.76 222.70,350.75 223.10,351.39 223.50,352.48 223.90,353.69 224.30,354.71 224.70,355.33 225.10,355.58 225.50,355.61 225.90,355.57 226.30,355.32 226.70,354.70 227.10,353.69 227.50,352.46 227.90,351.34 228.30,350.66 228.70,350.62 229.10,351.23 229.50,352.30 229.90,353.52 230.30,354.55 230.70,355.20 231.20,352.50 231.80,352.50 232.00,338.90 232.20,352.50 234.00,347.00 236.00,350.80 237.70,330.00 238.00,295.50 238.40,320.00 240.30,337.00 244.30,344.90 252.20,354.70 260.10,361.70 272.00,368.20 273.30,368.50 273.40,368.50 273.50,310.20 273.70,309.80 274.10,311.24 274.50,313.18 274.90,314.75 275.30,315.81 275.70,316.66 276.10,316.98 276.50,316.95 276.90,317.41 277.30,318.86 277.70,320.79 278.10,322.37 278.50,323.42 278.90,324.27 279.30,324.60 279.70,324.57 280.10,325.03 280.50,326.47 280.90,328.40 281.30,329.98 281.70,331.03 282.10,331.88 282.50,332.21 282.90,332.18 283.30,332.64 283.70,334.08 284.10,336.02 284.50,337.59 284.90,338.65 285.30,339.50 285.70,339.82 286.10,339.79 286.10,341.00 288.00,341.00 288.20,280.40 288.40,341.00 291.40,333.60 294.00,333.60 294.20,280.40 294.40,333.60 296.70,325.10 299.00,331.00 302.00,340.00 306.00,347.50 310.60,354.90 315.00,359.50 321.20,364.50 328.00,367.50 336.10,369.80 351.00,373.00 354.00,373.20"/>
<polyline fill="none" stroke="#3a3a3a" stroke-width="0.85" stroke-linejoin="round" points="12.50,544.50 19.30,544.50 19.48,539.44 19.60,539.48 19.91,536.79 20.03,536.24 20.34,535.47 20.46,535.59 20.77,534.69 20.89,534.28 21.20,533.89 21.32,532.91 21.63,532.85 21.75,532.68 22.06,531.97 22.18,531.76 22.49,532.18 22.61,531.48 22.92,533.27 23.04,533.35 23.35,532.62 23.47,531.61 23.78,530.29 23.90,530.89 24.21,528.78 24.33,528.64 24.64,526.70 24.76,525.31 25.07,525.17 25.19,524.98 25.30,524.80 25.42,520.78 25.50,524.84 25.62,519.20 25.80,523.77 25.92,517.30 25.93,523.72 26.05,518.13 26.30,522.99 26.42,516.65 26.36,523.22 26.48,515.10 26.79,522.17 26.91,513.33 26.80,522.04 26.92,513.81 27.22,521.33 27.34,513.51 27.30,521.61 27.42,511.65 27.65,520.80 27.77,510.84 28.08,521.20 28.20,520.57 28.51,521.42 28.63,520.33 28.94,521.75 29.06,520.13 29.37,521.98 29.49,521.31 29.80,522.44 29.92,521.50 30.23,522.38 30.35,522.72 30.66,521.11 30.78,520.01 31.09,519.04 31.21,517.16 31.52,516.75 31.64,515.06 31.86,514.37 31.98,494.89 31.95,513.53 32.07,495.20 32.36,510.92 32.48,483.85 32.38,511.08 32.50,491.14 32.81,508.33 32.93,483.31 32.86,507.53 32.98,480.79 33.24,507.62 33.36,507.73 33.67,507.03 33.79,506.82 34.10,506.93 34.22,505.18 34.53,506.84 34.65,506.99 34.96,506.99 35.08,505.61 35.39,506.56 35.51,505.48 35.82,506.14 35.94,505.53 36.25,506.03 36.37,505.08 36.68,506.05 36.80,505.19 37.11,505.89 37.23,505.13 37.19,505.55 37.30,497.50 37.54,505.48 37.66,494.55 37.69,505.31 37.80,497.20 37.97,505.00 38.09,495.17 38.19,505.16 38.30,493.28 38.40,505.05 38.52,489.31 38.69,504.94 38.80,491.32 38.83,505.05 38.95,489.84 39.19,504.25 39.30,487.79 39.26,504.35 39.38,487.33 39.69,504.16 39.81,502.46 40.12,504.18 40.24,503.16 40.55,504.60 40.67,502.89 40.98,504.53 41.10,503.94 41.41,504.36 41.53,504.45 41.84,504.32 41.96,504.33 42.27,504.72 42.39,503.64 42.70,504.68 42.82,504.21 43.13,505.11 43.25,503.61 43.45,504.91 43.57,498.74 43.56,504.84 43.68,497.36 43.95,505.38 44.07,495.48 43.99,505.36 44.11,492.44 44.42,505.53 44.54,493.96 44.45,505.58 44.57,492.65 44.85,505.18 44.97,488.98 44.95,505.65 45.07,491.37 45.28,505.75 45.40,504.99 45.71,507.02 45.83,504.41 46.14,507.08 46.26,506.73 46.57,507.99 46.69,508.44 47.00,508.51 47.12,508.94 47.43,509.36 47.55,507.29 47.86,509.97 47.98,510.02 48.29,508.89 48.41,508.86 48.72,508.62 48.84,508.86 49.00,508.69 49.12,508.19 49.15,508.51 49.27,499.92 49.50,507.78 49.62,499.59 49.58,507.68 49.70,498.76 50.00,507.81 50.12,496.89 50.01,507.19 50.13,497.18 50.44,506.69 50.56,494.83 50.50,507.16 50.62,497.58 50.87,506.50 50.99,491.94 51.00,506.40 51.12,492.63 51.30,506.08 51.42,489.51 51.73,505.64 51.85,504.96 52.16,505.28 52.28,503.97 52.59,504.45 52.71,503.38 53.02,503.99 53.14,502.36 53.45,503.36 53.57,503.83 53.88,502.70 54.00,500.91 54.25,503.29 54.37,500.24 54.31,503.25 54.43,500.53 54.74,504.79 54.86,500.26 54.75,504.72 54.87,498.05 55.17,507.14 55.29,498.75 55.60,508.55 55.72,506.39 56.03,509.96 56.15,509.89 56.46,511.04 56.58,509.60 56.89,511.47 57.01,511.05 57.32,512.92 57.44,511.13 57.75,513.43 57.87,511.67 58.18,514.19 58.30,513.84 58.61,514.78 58.73,515.13 59.04,515.66 59.16,515.84 59.47,516.10 59.59,516.44 59.86,516.34 59.98,511.84 59.90,516.61 60.02,513.15 60.33,517.48 60.45,509.09 60.36,517.08 60.48,510.43 60.76,517.78 60.88,506.98 60.86,517.71 60.98,506.81 61.19,518.12 61.31,518.08 61.62,518.59 61.74,517.94 62.05,519.41 62.17,518.66 62.48,519.43 62.60,519.40 62.91,520.59 63.03,520.49 63.34,520.51 63.46,521.22 63.77,521.54 63.89,519.00 64.20,521.95 64.32,521.74 64.63,521.79 64.75,520.91 65.06,522.09 65.18,520.22 65.49,521.95 65.61,520.08 65.92,521.75 66.04,520.42 66.35,522.07 66.47,520.11 66.78,522.09 66.90,521.26 67.10,522.19 67.22,519.18 67.21,521.88 67.33,517.49 67.60,522.14 67.72,518.00 67.64,522.57 67.76,517.12 68.07,522.12 68.19,516.24 68.10,522.34 68.22,513.41 68.50,522.42 68.62,522.19 68.93,522.30 69.05,520.89 69.36,522.80 69.48,522.92 69.79,522.68 69.91,520.95 70.22,522.61 70.34,521.82 70.65,522.79 70.77,522.04 71.08,523.33 71.20,522.46 71.51,522.89 71.63,523.45 71.94,523.27 72.06,523.80 72.37,523.77 72.49,521.83 72.80,523.79 72.92,524.07 73.23,523.89 73.35,523.76 73.34,523.56 73.46,523.63 73.66,523.67 73.78,523.57 73.84,523.74 73.96,523.51 74.09,523.98 74.21,523.19 74.34,524.28 74.46,523.25 74.52,524.20 74.64,523.28 74.95,524.75 75.07,523.06 75.38,524.82 75.50,524.64 75.81,525.07 75.93,525.67 76.24,525.91 76.36,525.44 76.67,526.02 76.79,526.24 77.10,526.72 77.22,526.87 77.53,527.12 77.65,526.91 77.96,527.30 78.08,526.27 78.39,527.64 78.51,526.15 78.82,528.30 78.94,528.16 79.25,528.77 79.37,528.83 79.36,528.55 79.48,528.91 79.68,529.11 79.80,529.05 79.86,528.87 79.98,528.98 80.11,529.70 80.23,529.15 80.36,529.66 80.48,528.84 80.54,529.74 80.66,529.55 80.97,530.51 81.09,529.14 81.40,530.36 81.52,528.97 81.83,531.08 81.95,530.81 82.26,531.36 82.38,531.43 82.69,531.54 82.81,531.68 83.12,531.70 83.24,530.28 83.55,532.04 83.67,530.65 83.98,532.21 84.10,530.66 84.41,532.00 84.53,532.23 84.84,532.49 84.96,532.24 85.27,532.25 85.39,532.65 85.38,532.70 85.50,532.48 85.70,532.40 85.82,532.26 85.88,532.79 86.00,532.33 86.13,532.54 86.25,532.09 86.38,532.77 86.50,532.03 86.56,532.59 86.68,532.43 86.99,533.21 87.11,532.58 87.42,533.08 87.54,533.36 87.85,533.21 87.97,532.45 88.28,533.52 88.40,532.58 88.71,533.68 88.83,533.43 89.14,533.82 89.26,533.57 89.57,534.01 89.69,532.85 90.00,533.88 90.12,534.07 90.43,534.20 90.55,533.97 90.86,534.09 90.98,533.02 91.29,534.57 91.41,534.49 91.40,534.42 91.52,534.10 91.72,534.52 91.84,533.98 91.90,534.46 92.02,533.73 92.15,534.58 92.27,533.76 92.40,534.88 92.52,533.71 92.58,534.89 92.70,534.92 93.01,534.85 93.13,534.03 93.44,534.89 93.56,534.60 93.87,535.14 93.99,535.03 94.30,534.88 94.42,535.12 94.73,535.13 94.85,535.04 95.16,535.08 95.28,535.20 95.59,535.30 95.71,534.68 96.02,535.37 96.14,535.05 96.45,535.36 96.57,535.03 96.88,535.32 97.00,535.10 97.31,535.72 97.43,534.55 97.42,535.74 97.54,535.33 97.74,535.50 97.86,535.20 97.92,535.62 98.04,535.02 98.17,535.57 98.29,535.11 98.42,535.81 98.54,534.75 98.60,535.94 98.72,535.07 99.03,535.73 99.15,535.93 99.46,536.05 99.58,536.09 99.89,535.91 100.01,535.73 100.32,536.23 100.44,535.68 100.75,536.06 100.87,536.14 101.18,536.32 101.30,536.14 101.61,536.37 101.73,536.47 102.04,536.52 102.16,535.43 102.47,536.27 102.59,536.10 102.90,536.58 103.02,535.96 103.33,536.71 103.45,536.12 103.44,536.68 103.56,536.16 103.76,536.50 103.88,535.80 103.94,536.69 104.06,535.69 104.19,536.49 104.31,535.47 104.44,536.68 104.56,535.51 104.62,536.85 104.74,536.81 105.05,536.90 105.17,536.18 105.48,536.92 105.60,536.39 105.91,536.72 106.03,536.33 106.34,536.89 106.46,535.93 106.77,536.92 106.89,536.77 107.20,536.82 107.32,536.39 107.63,537.02 107.75,537.09 108.06,537.09 108.18,537.15 108.49,536.87 108.61,536.46 108.92,537.22 109.04,536.10 109.35,536.97 109.47,536.98 109.46,537.16 109.58,536.91 109.78,537.01 109.90,536.71 109.96,537.15 110.08,536.79 110.21,537.28 110.33,536.70 110.46,537.28 110.58,536.45 110.64,537.26 110.76,536.54 111.07,537.20 111.19,537.33 111.50,537.43 111.62,537.30 111.93,537.43 112.05,536.34 112.36,537.36 112.48,537.47 112.79,537.29 112.91,537.56 113.22,537.58 113.34,537.57 113.65,537.45 113.77,536.55 114.08,537.36 114.20,536.65 114.51,537.59 114.63,536.89 114.94,536.13 115.06,535.57 115.37,534.43 115.49,534.71 115.48,534.09 115.60,533.55 115.80,533.00 115.92,532.62 115.98,532.75 116.10,532.41 116.23,532.98 116.35,532.40 116.48,533.25 116.60,532.12 116.66,533.44 116.78,533.18 117.09,533.84 117.21,533.33 117.52,534.02 117.64,533.91 117.95,534.45 118.07,534.33 118.38,534.39 118.50,534.62 118.81,534.51 118.93,533.89 119.24,534.72 119.36,534.27 119.67,534.76 119.79,535.03 120.10,534.96 120.22,534.83 120.53,535.07 120.65,535.27 120.96,535.14 121.08,535.38 121.39,535.41 121.51,534.93 121.50,535.54 121.62,534.81 121.82,535.68 121.94,534.61 122.00,535.67 122.12,534.59 122.25,535.71 122.37,534.47 122.50,535.91 122.62,534.36 122.68,535.66 122.80,535.77 123.11,535.97 123.23,535.45 123.54,536.20 123.66,536.14 123.97,536.16 124.09,536.09 124.40,536.35 124.52,535.71 124.83,536.38 124.95,535.81 125.26,536.66 125.38,535.95 125.69,536.59 125.81,536.31 126.12,536.41 126.24,535.96 126.55,536.15 126.67,535.87 126.98,535.93 127.10,535.65 127.41,535.64 127.53,535.77 127.52,535.55 127.64,535.22 127.84,535.40 127.96,535.03 128.02,535.43 128.14,534.86 128.27,535.13 128.39,534.67 128.52,534.99 128.64,534.57 128.70,535.11 128.82,534.40 129.13,534.81 129.25,534.79 129.56,534.53 129.68,534.22 129.99,534.43 130.11,534.03 130.42,534.19 130.54,534.08 130.85,533.81 130.97,533.38 131.28,533.54 131.40,533.63 131.71,532.20 131.83,532.15 132.14,530.41 132.26,530.38 132.57,528.86 132.69,528.10 133.00,527.24 133.12,527.36 133.33,525.95 133.45,526.18 133.43,525.88 133.55,513.77 133.83,524.95 133.95,508.79 133.86,525.09 133.98,502.02 134.29,524.12 134.41,523.41 134.72,523.59 134.84,523.42 135.15,522.71 135.27,522.78 135.58,522.02 135.70,521.98 136.01,521.05 136.13,521.17 136.44,521.07 136.56,521.33 136.87,521.69 136.99,521.61 137.30,522.19 137.42,522.11 137.73,522.94 137.85,522.94 138.16,523.43 138.28,523.23 138.59,524.05 138.71,523.95 139.02,524.55 139.14,524.67 139.45,525.02 139.57,524.55 139.56,525.13 139.68,525.21 139.88,525.75 140.00,525.23 140.06,525.84 140.18,525.47 140.31,526.23 140.43,525.10 140.56,526.61 140.68,524.89 140.74,526.97 140.86,526.64 141.17,527.31 141.29,527.36 141.60,528.10 141.72,528.11 142.03,528.58 142.15,528.71 142.46,529.15 142.58,528.86 142.89,529.68 143.01,529.12 143.32,530.28 143.44,529.98 143.75,531.00 143.87,530.69 144.18,531.42 144.30,531.57 144.61,532.06 144.73,532.08 145.04,532.58 145.16,532.28 145.47,532.82 145.59,532.78 145.58,532.73 145.70,532.52 145.90,532.95 146.02,532.25 146.08,532.98 146.20,532.30 146.33,533.00 146.45,532.04 146.58,533.07 146.70,531.76 146.76,533.01 146.88,532.72 147.19,533.08 147.31,532.47 147.62,533.22 147.74,532.58 148.05,533.38 148.17,533.47 148.48,533.47 148.60,533.01 148.91,533.63 149.03,533.19 149.34,533.66 149.46,533.30 149.77,533.84 149.89,533.06 150.20,533.75 150.32,533.76 150.63,533.93 150.75,533.84 151.06,534.12 151.18,533.98 151.49,534.02 151.61,534.09 151.60,534.19 151.72,534.03 151.92,534.13 152.04,533.99 152.10,534.36 152.22,533.93 152.35,534.19 152.47,533.99 152.60,534.29 152.72,533.91 152.78,534.31 152.90,534.11 153.21,534.39 153.33,534.61 153.64,534.66 153.76,534.03 154.07,534.83 154.19,534.33 154.50,534.87 154.62,534.30 154.93,534.91 155.05,534.58 155.36,535.03 155.48,535.25 155.79,535.36 155.91,535.37 156.22,535.47 156.34,535.28 156.65,535.63 156.77,535.25 157.08,535.63 157.20,535.42 157.51,535.86 157.63,535.19 157.62,535.86 157.74,535.46 157.94,535.88 158.06,535.17 158.12,536.05 158.24,535.08 158.37,536.07 158.49,535.06 158.62,536.31 158.74,534.67 158.80,536.34 158.92,536.25 159.23,536.43 159.35,536.25 159.66,536.54 159.78,536.62 160.09,536.73 160.21,536.38 160.52,536.93 160.64,536.34 160.95,536.92 161.07,537.08 161.38,537.06 161.50,536.90 161.81,537.25 161.93,536.66 162.24,537.36 162.36,536.94 162.67,537.54 162.79,537.37 163.10,537.72 163.22,537.03 163.53,537.83 163.65,537.73 163.64,537.96 163.76,537.58 163.96,538.07 164.08,537.60 164.14,538.04 164.26,537.62 164.39,538.09 164.51,537.49 164.64,538.30 164.76,537.37 164.82,538.19 164.94,538.22 165.25,538.32 165.37,538.30 165.68,538.52 165.80,538.34 166.11,538.57 166.23,538.37 166.54,538.90 166.66,538.93 166.97,539.03 167.09,539.05 167.40,538.99 167.52,539.21 167.83,539.25 167.95,539.31 168.26,539.39 168.38,538.88 168.69,539.57 168.81,539.55 169.12,539.67 169.24,539.53 169.55,539.71 169.67,539.56 169.66,539.63 169.78,539.80 169.98,539.74 170.10,538.45 170.16,539.70 170.28,538.75 170.41,539.85 170.53,538.36 170.66,539.77 170.78,538.22 170.84,539.93 170.96,539.58 171.27,539.97 171.39,539.90 171.70,539.98 171.82,539.96 172.13,540.19 172.25,539.53 172.56,540.08 172.68,539.70 172.99,540.12 173.11,540.25 173.42,540.24 173.54,539.81 173.85,540.36 173.97,540.43 174.28,540.41 174.40,540.06 174.71,540.43 174.83,540.58 175.14,540.61 175.26,540.47 175.57,540.70 175.69,540.58 175.68,540.73 175.80,540.58 176.00,540.76 176.12,539.44 176.18,540.75 176.30,539.60 176.43,540.78 176.55,539.31 176.68,540.85 176.80,538.74 176.86,540.83 176.98,540.23 177.29,540.91 177.41,540.31 177.72,540.88 177.84,541.03 178.15,540.96 178.27,541.07 178.58,541.13 178.70,540.62 179.01,541.13 179.13,541.12 179.44,541.14 179.56,540.77 179.87,541.26 179.99,541.15 180.30,541.41 180.42,540.96 180.73,541.33 180.85,540.91 181.16,541.45 181.28,541.50 181.59,541.51 181.71,541.22 181.70,541.64 181.82,541.64 182.02,541.68 182.14,540.82 182.20,541.58 182.32,540.56 182.45,541.59 182.57,540.30 182.70,541.72 182.82,540.13 182.88,541.65 183.00,541.80 183.31,541.71 183.43,541.54 183.74,541.95 183.86,541.38 184.17,541.94 184.29,541.73 184.60,542.09 184.72,541.68 185.03,542.04 185.15,541.82 185.46,542.20 185.58,542.08 185.89,542.28 186.01,541.93 186.32,542.35 186.44,542.23 186.75,542.37 186.87,542.32 187.18,542.36 187.30,542.19 187.61,542.48 187.73,542.19 188.04,542.50 188.16,542.22 188.47,542.54 188.59,542.45 188.90,542.61 189.02,542.12 189.33,542.59 189.45,542.13 189.76,542.61 189.88,542.56 190.00,542.70 190.00,542.70 190.10,532.80 190.30,532.61 190.70,531.94 191.10,531.20 191.50,530.58 191.90,530.27 192.30,530.37 192.70,530.83 193.10,531.52 193.50,532.22 193.90,532.78 194.30,533.09 194.70,533.18 195.10,533.18 195.50,533.14 195.90,532.93 196.30,532.49 196.70,531.83 197.10,531.09 197.50,530.46 197.90,530.13 198.30,530.21 198.70,530.65 199.10,531.33 199.50,532.05 199.90,532.61 200.30,532.93 200.70,533.04 201.10,533.04 201.50,533.00 201.90,532.80 202.30,532.38 202.70,531.73 203.10,530.98 203.50,530.34 203.90,530.00 204.30,530.05 204.70,530.48 205.10,531.15 205.50,531.87 205.90,532.44 206.30,532.78 206.70,532.89 207.10,532.89 207.50,532.86 207.90,532.67 208.30,532.26 208.70,531.62 209.10,530.87 209.50,530.22 209.90,529.86 210.30,529.89 210.70,530.30 211.10,530.97 211.50,531.69 211.90,532.27 212.30,532.62 212.70,532.74 213.10,532.75 213.50,532.71 213.90,532.54 214.30,532.14 214.70,531.51 215.10,530.76 215.50,530.10 215.90,529.72 216.30,529.73 216.70,530.13 217.10,530.79 217.50,531.51 217.90,532.10 218.30,532.46 218.70,532.59 219.10,532.60 219.50,532.57 219.90,532.41 220.30,532.02 220.70,531.40 221.10,530.65 221.50,529.99 221.90,529.59 222.30,529.58 222.70,529.96 223.10,530.61 223.50,531.33 223.90,531.93 224.30,532.30 224.70,532.45 225.10,532.46 225.50,532.43 225.90,532.28 226.30,531.90 226.70,531.29 227.10,530.55 227.50,529.87 227.90,529.45 228.30,529.42 228.70,529.79 229.10,530.42 229.50,531.15 229.90,531.76 230.30,532.15 230.70,532.30 231.10,532.31 231.50,532.29 231.80,530.60 232.00,530.60 232.20,517.90 232.40,530.60 234.00,523.00 236.10,526.40 237.80,520.00 238.20,465.70 238.50,500.00 239.20,508.00 240.70,510.40 243.00,516.00 246.70,522.10 250.00,526.50 255.20,531.70 260.00,533.40 265.90,536.40 270.00,537.90 277.50,539.60 277.60,539.60 277.70,498.80 277.90,498.70 278.30,499.91 278.70,501.53 279.10,502.74 279.50,503.54 279.90,504.11 280.30,504.16 280.70,504.15 281.10,504.91 281.50,506.44 281.90,507.92 282.30,508.87 282.70,509.60 283.10,509.90 283.50,509.81 283.90,510.12 284.30,511.34 284.70,512.95 285.10,514.16 285.50,514.97 285.90,515.53 286.20,515.90 287.60,515.90 287.80,467.00 288.00,515.90 289.60,500.00 292.60,505.70 293.90,470.00 294.20,444.20 294.60,470.00 295.30,482.90 297.50,489.00 299.90,494.30 303.00,503.00 306.70,512.50 310.00,521.00 313.60,528.50 319.00,534.00 325.00,537.60 336.30,539.80 352.30,542.10 354.00,542.20"/>
<polyline fill="none" stroke="#3a3a3a" stroke-width="0.85" stroke-linejoin="round" points="12.50,566.50 20.00,566.50 20.40,560.00 20.80,563.50 25.00,563.00 29.00,562.80 32.00,562.50 32.20,560.50 32.50,562.60 36.50,563.00 37.50,565.50 50.00,565.50 60.00,566.00 65.00,566.50 190.00,566.60 272.00,566.60 272.30,566.60 272.60,564.70 290.00,565.20 320.00,565.80 354.00,566.00"/>
<polyline fill="none" stroke="#000" stroke-width="0.5" stroke-linejoin="round" points="353.60,180.00 354.20,180.00 354.30,150.00 354.80,147.75 355.20,161.58 355.60,163.41 356.00,168.20 356.40,169.19 356.80,173.71 357.20,168.85 357.60,163.03 358.00,169.67 358.40,164.30 358.80,160.37 359.20,167.34 359.60,154.62 360.00,162.62 360.40,157.00 360.80,170.16 361.20,161.15 361.60,169.19 362.00,168.26 362.40,164.14 362.80,167.20 363.20,171.34 363.60,161.67 364.00,155.79 364.40,168.24 364.80,172.97 365.20,168.82 365.60,170.63 366.00,162.45 366.40,150.69 366.50,147.75 366.80,156.58 367.20,167.32 367.60,168.74 368.00,168.17 368.40,171.44 368.80,164.50 369.20,172.42 369.60,156.85 370.00,168.08 370.40,160.00 370.80,158.61 371.20,172.72 371.60,163.91 372.00,166.93 372.40,176.73 372.80,162.45 373.20,174.31 373.60,161.54 374.00,165.56 374.40,161.63 374.80,167.37 375.20,164.47 375.60,163.03 376.00,164.67 376.40,173.07 376.80,177.34 377.20,163.22 377.60,173.05 378.00,161.27 378.40,169.07 378.80,164.32 379.20,166.88 379.60,165.96 380.00,163.54 380.40,154.10 380.80,170.25 381.20,169.08 381.60,173.17 382.00,171.51 382.40,162.09 382.80,163.25 383.20,162.94 383.60,167.35 384.00,155.40 384.40,167.23 384.80,169.18 385.20,162.04 385.60,170.19 386.00,177.76 386.40,168.18 386.80,169.15 387.20,167.19 387.60,157.83 388.00,172.35 388.40,166.82 388.80,169.54 389.20,167.85 389.60,166.67 390.00,165.27 390.40,168.32 390.80,169.40 391.20,171.10 391.60,162.19 392.00,163.14 392.40,163.09 392.80,161.61 393.20,166.52 393.60,166.34 394.00,176.15 394.40,168.95 394.80,158.36 395.20,171.83 395.60,167.79 396.00,166.81 396.40,154.64 396.80,161.22 397.20,163.63 397.60,168.43 398.00,171.72 398.40,170.29 398.80,165.78 399.20,153.73 399.60,160.82 400.00,158.39 400.40,161.31 400.80,175.66 401.20,172.50 401.60,155.98 402.00,168.95 402.40,168.16 402.80,161.75 403.20,170.33 403.60,165.28 404.00,164.56 404.40,175.99 404.80,170.34 405.20,170.42 405.60,164.36 406.00,177.63 406.40,163.09 406.80,173.44 407.20,163.40 407.60,159.63 408.00,166.41 408.40,173.21 408.80,160.08 409.20,164.13 409.60,162.71 410.00,170.00 410.40,166.75 410.80,165.34 411.20,167.32 411.60,169.47 412.00,162.60 412.40,168.34 412.80,168.38 413.20,168.03 413.60,168.02 414.00,173.82 414.40,157.80 414.80,148.98 415.20,168.69 415.60,159.47 416.00,164.79 416.40,156.54 416.80,169.03 417.20,175.49 417.60,167.46 418.00,162.29 418.40,166.31 418.80,171.14 419.20,162.34 419.60,181.01 420.00,151.20 420.40,161.69 420.80,165.55 421.20,171.62 421.60,167.53 422.00,168.37 422.40,169.44 422.80,173.51 423.20,166.07 423.60,163.39 424.00,151.14 424.40,169.62 424.80,172.25 425.20,168.54 425.60,165.22 426.00,175.35 426.40,174.34 426.80,154.41 427.20,166.65 427.60,165.81 428.00,158.25 428.40,164.05 428.80,169.03 429.20,168.24 429.60,170.68 430.00,163.49 430.40,176.09 430.80,171.95 431.20,163.40 431.60,167.16 432.00,169.88 432.40,163.23 432.80,175.30 433.20,168.92 433.60,168.87 434.00,168.51 434.40,168.45 434.80,168.55 435.20,169.49 435.60,162.04 436.00,165.25 436.40,166.26 436.80,174.51 437.20,173.48 437.60,165.90 438.00,164.96 438.40,167.12 438.80,166.29 439.20,167.41 439.60,159.55 440.00,166.07 440.40,170.59 440.80,158.30 441.20,162.64 441.60,165.41 442.00,173.51 442.40,162.21 442.80,157.97 443.20,171.44 443.60,163.86 444.00,172.00 444.40,163.69 444.80,168.66 445.20,164.45 445.60,175.42 446.00,165.04 446.40,155.69 446.80,160.21 447.20,169.98 447.60,164.92 448.00,169.89 448.40,161.93 448.80,169.89 449.20,171.03 449.60,154.23 450.00,157.36 450.40,171.61 450.80,171.24 451.20,154.31 451.60,160.38 452.00,159.25 452.40,161.61 452.80,162.38 453.20,172.17 453.60,163.42 454.00,171.95 454.40,163.74 454.80,159.85 455.20,160.94 455.60,167.09 456.00,169.49 456.40,166.36 456.80,163.80 457.20,167.95 457.60,169.69 458.00,156.40 458.40,160.98 458.80,155.91 459.20,168.52 459.60,171.08 460.00,156.60 460.40,162.60 460.80,171.29 461.20,164.95 461.60,159.83 462.00,160.19 462.40,166.89 462.80,170.91 463.20,161.87 463.60,157.51 464.00,170.48 464.40,170.80 464.80,163.68 465.20,162.77 465.60,172.08 466.00,161.41 466.40,168.03 466.80,165.57 467.20,155.89 467.60,165.56 468.00,157.25 468.40,159.56 468.80,158.96 469.20,147.38 469.60,166.11 470.00,163.09 470.40,168.67 470.80,171.67 471.20,153.23 471.60,172.84 472.00,169.67 472.40,165.59 472.80,166.80 473.20,149.62 473.60,176.63 474.00,168.57 474.40,162.17 474.80,172.93 475.20,166.95 475.60,155.97 476.00,174.47 476.40,173.26 476.80,162.75 477.20,164.85 477.60,154.37 478.00,136.00 478.40,142.11 478.60,135.00 478.80,142.10 479.20,148.67 479.50,145.00 479.60,146.22 480.00,151.08 480.40,155.92 480.80,160.73 481.20,164.42 481.60,165.62 482.00,159.39 482.40,164.95 482.80,160.20 483.20,170.90 483.60,153.21 484.00,162.12 484.40,164.85 484.80,161.43 485.20,149.87 485.60,163.57 486.00,168.65 486.40,168.69 486.80,158.19 487.20,166.99 487.60,167.04 488.00,166.69 488.40,159.82 488.80,163.46 489.20,160.58 489.60,165.78 490.00,171.42 490.40,155.63 490.80,171.07 491.20,156.79 491.60,157.81 492.00,170.38 492.40,162.34 492.80,161.11 493.20,166.38 493.60,161.88 494.00,163.63 494.40,172.99 494.80,154.65 495.20,155.70 495.60,162.80 496.00,156.30 496.40,157.20 496.80,156.35 497.20,172.75 497.60,169.43 498.00,159.48 498.40,163.07 498.80,166.13 499.20,167.52 499.60,153.61 500.00,161.08 500.40,157.73 500.80,165.52 501.20,159.62 501.60,157.70 502.00,149.33 502.40,152.25 502.80,154.07 503.20,162.34 503.60,152.98 504.00,153.98 504.40,156.35 504.80,151.94 505.20,154.01 505.60,161.61 506.00,145.97 506.40,149.65 506.80,142.94 507.20,146.92 507.60,139.31 508.00,137.27 508.40,137.63 508.80,130.96 509.20,122.84 509.50,92.50 509.60,82.44 510.00,42.50 510.40,82.00 510.80,116.67 511.00,114.00 511.20,116.61 511.60,121.67 512.00,126.50 512.40,131.53 512.80,136.59 513.20,153.27 513.60,145.38 514.00,143.53 514.40,141.10 514.80,130.74 515.20,137.12 515.60,144.00 516.00,133.36 516.40,138.76 516.80,133.64 517.20,142.92 517.60,153.68 518.00,138.49 518.40,143.07 518.80,118.43 519.20,135.72 519.60,140.85 520.00,144.21 520.40,143.68 520.80,142.49 521.20,153.92 521.60,143.32 522.00,152.97 522.40,144.76 522.80,134.96 523.20,141.56 523.60,142.66 524.00,137.47 524.40,138.44 524.80,135.28 525.20,148.87 525.60,151.64 526.00,129.76 526.40,153.15 526.80,150.25 527.20,148.83 527.60,161.54 528.00,149.71 528.40,152.25 528.80,151.29 529.20,138.98 529.60,140.97 530.00,141.53 530.40,149.06 530.80,153.43 531.20,159.03 531.60,136.54 532.00,148.56 532.40,164.51 532.80,166.93 533.20,156.51 533.60,167.06 534.00,148.44 534.40,142.85 534.80,151.26 535.20,154.27 535.60,160.17 536.00,157.07 536.40,153.39 536.80,150.93 537.20,136.14 537.60,150.46 538.00,140.15 538.40,143.71 538.80,144.94 539.20,154.27 539.60,153.24 540.00,148.60 540.40,138.26 540.80,141.35 541.20,133.61 541.60,114.94 542.00,84.00 542.20,68.70 542.40,83.89 542.50,91.44 542.80,94.61 543.00,87.00 543.20,94.54 543.60,109.38 544.00,123.93 544.40,138.18 544.80,131.45 545.20,135.04 545.60,129.00 546.00,140.67 546.40,149.07 546.80,145.43 547.20,143.60 547.60,145.80 548.00,133.77 548.40,136.40 548.80,145.99 549.20,130.33 549.60,139.62 550.00,139.98 550.40,143.01 550.80,138.63 551.20,145.05 551.60,159.54 552.00,145.80 552.40,142.94 552.80,149.20 553.20,148.33 553.60,133.78 554.00,161.27 554.40,146.13 554.80,138.46 555.20,128.88 555.60,152.90 556.00,152.41 556.40,163.31 556.80,139.15 557.20,157.54 557.60,155.32 558.00,141.05 558.40,159.20 558.80,146.40 559.20,141.90 559.60,153.54 560.00,140.68 560.40,150.20 560.80,150.01 561.20,154.08 561.60,151.78 562.00,152.95 562.40,136.86 562.80,148.86 563.20,149.60 563.60,134.22 564.00,139.32 564.40,140.79 564.80,155.13 565.20,154.65 565.60,159.16 566.00,169.66 566.40,152.72 566.80,147.91 567.20,160.66 567.60,147.03 568.00,155.03 568.40,158.15 568.80,149.69 569.20,150.74 569.60,151.97 570.00,150.55 570.40,162.70 570.80,158.14 571.20,146.09 571.60,154.12 572.00,151.58 572.40,154.75 572.80,150.40 573.20,154.32 573.60,143.34 574.00,130.05 574.30,120.00 574.40,123.37 574.80,136.90 575.00,135.00 575.20,137.53 575.60,142.64 576.00,147.83 576.40,153.11 576.80,153.08 577.20,162.55 577.60,169.94 578.00,163.15 578.40,146.88 578.80,159.07 579.20,159.22 579.60,153.12 580.00,154.56 580.40,153.83 580.80,145.13 581.20,146.77 581.60,160.14 582.00,156.63 582.40,166.84 582.80,163.01 583.20,155.20 583.60,153.17 584.00,162.73 584.40,158.20 584.80,147.48 585.20,154.36 585.60,153.99 586.00,156.08 586.40,162.43 586.80,164.06 587.20,167.61 587.60,157.51 588.00,144.10 588.40,164.08 588.80,160.43 589.20,156.15 589.60,162.16 590.00,164.19 590.40,159.17 590.80,158.04 591.20,153.63 591.60,154.11 592.00,158.00 592.40,157.32 592.80,146.57 593.20,162.36 593.60,160.71 594.00,160.56 594.40,163.58 594.80,156.95 595.20,158.48 595.60,165.03 596.00,153.04 596.40,164.66 596.80,156.34 597.20,166.08 597.60,148.97 598.00,173.04 598.40,158.48 598.80,164.52 599.20,161.98 599.60,166.02 600.00,154.63 600.40,163.48 600.80,164.93 601.20,165.08 601.60,154.81 602.00,169.87 602.40,162.11 602.80,170.21 603.20,164.26 603.60,158.35 604.00,158.07 604.40,161.92 604.80,151.28 605.20,164.49 605.60,160.65 606.00,166.51 606.40,158.57 606.80,161.16 607.20,151.60 607.60,174.49 608.00,161.92 608.40,173.09 608.80,162.38 609.20,162.64 609.60,169.13 610.00,163.30 610.40,160.80 610.80,158.89 611.20,163.05 611.60,161.21 612.00,165.10 612.40,168.96 612.80,162.43 613.20,154.59 613.60,164.91 614.00,169.49 614.40,163.30 614.80,153.53 615.20,164.98 615.60,167.89 616.00,166.63 616.40,155.39 616.80,167.54 617.20,162.36 617.60,163.86 618.00,154.46 618.40,157.14 618.80,163.19 619.20,156.70 619.60,168.15 620.00,171.26 620.40,149.33 620.80,171.56 621.20,162.41 621.60,166.54 622.00,161.86 622.40,173.03 622.80,173.00 623.20,157.05 623.60,160.58 624.00,173.76 624.40,159.42 624.80,165.80 625.20,160.25 625.60,170.25 626.00,168.77 626.40,171.78 626.80,171.63 627.20,171.61 627.60,165.16 628.00,158.17 628.40,165.74 628.80,161.98 629.20,169.10 629.60,165.27 630.00,164.47 630.40,161.03 630.80,166.65 631.20,163.92 631.60,164.75 632.00,171.06 632.40,160.60 632.80,164.03 633.20,164.07 633.60,171.10 634.00,160.70 634.40,163.96 634.80,164.80 635.20,173.31 635.60,172.91 636.00,164.60 636.40,170.56 636.80,177.47 637.20,170.30 637.60,161.99 638.00,165.57 638.40,169.43 638.80,173.11 639.20,170.47 639.60,168.11 640.00,167.92 640.40,173.43 640.80,167.15 641.20,164.91 641.60,168.40 642.00,169.03 642.40,162.31 642.80,169.22 643.20,169.74 643.60,170.15 644.00,172.35 644.40,162.54 644.80,164.80 645.20,161.15 645.60,164.73 646.00,176.09 646.40,163.20 646.80,164.60 647.20,170.04 647.60,169.96 648.00,171.54 648.40,168.50 648.80,160.68 649.20,165.86 649.60,169.94 650.00,167.14 650.40,166.88 650.80,166.82 651.20,170.58 651.60,157.15 652.00,177.07 652.40,172.96 652.80,167.58 653.20,166.08 653.60,167.10 654.00,175.07 654.40,174.80 654.80,173.67 655.20,170.63 655.60,173.58 656.00,171.03 656.40,165.05 656.80,171.89 657.20,168.31 657.60,168.53 658.00,164.95 658.40,169.75 658.80,165.93 659.20,165.63 659.60,168.22 660.00,165.83 660.40,172.31 660.80,168.17 661.20,170.94 661.60,176.90 662.00,171.94 662.40,169.19 662.80,173.10 663.20,156.60 663.60,166.44 664.00,162.63 664.40,163.93 664.80,173.21 665.20,168.21 665.60,169.10 666.00,168.59 666.40,173.01 666.80,165.30 667.20,164.88 667.60,165.64 668.00,163.29 668.40,173.61 668.80,169.31 669.20,175.02 669.60,168.18 670.00,166.12 670.40,177.94 670.80,169.44 671.20,173.12 671.60,166.63 672.00,165.98 672.40,172.28 672.80,169.03 673.20,175.78 673.60,175.08 674.00,171.55 674.40,174.24 674.80,177.02 675.20,166.81 675.60,172.29 676.00,172.11 676.40,168.33 676.80,170.12 677.20,170.35 677.60,166.13 678.00,173.33 678.40,164.33 678.80,170.70 679.20,171.28 679.60,182.39 680.00,169.01 680.40,169.09 680.80,170.82 681.20,168.82 681.60,171.40 682.00,173.81 682.40,162.94 682.80,171.29 683.20,164.80 683.60,170.21 684.00,168.92 684.40,165.71 684.80,167.65 685.20,164.97 685.60,169.28 686.00,170.45 686.40,168.49 686.80,172.00 687.20,177.55 687.60,171.37 688.00,174.74 688.40,164.43 688.80,158.67 689.00,152.50 689.20,158.67 689.60,177.65 690.00,165.65 690.40,175.78 690.80,169.45 691.20,171.98 691.60,179.01 692.00,175.73 692.40,172.99 692.80,167.79 693.20,167.29 693.60,168.62 694.00,170.41 694.40,171.23 694.80,182.57 695.20,160.06 695.60,171.82 696.00,170.43 696.40,163.06 696.80,172.42 697.20,172.71 697.60,169.41 698.00,165.79 698.40,169.85 698.80,170.06 699.20,173.81 699.60,170.00"/>
<polyline fill="none" stroke="#000" stroke-width="0.5" stroke-linejoin="round" points="354.00,373.20 354.20,373.20 354.30,297.40 354.80,316.39 355.20,317.34 355.60,322.83 356.00,300.00 356.40,323.04 356.80,332.94 357.20,347.37 357.60,342.73 358.00,321.91 358.40,319.68 358.80,331.24 359.20,336.66 359.60,324.42 360.00,347.13 360.40,322.46 360.80,345.72 361.20,340.28 361.60,310.58 362.00,328.58 362.40,325.80 362.80,333.65 363.20,324.41 363.60,343.34 364.00,339.16 364.40,348.48 364.80,338.28 365.20,335.56 365.60,316.50 366.00,335.16 366.40,318.90 366.80,322.21 367.20,334.41 367.60,324.03 368.00,327.75 368.40,332.98 368.80,334.52 369.20,337.83 369.60,336.60 370.00,335.28 370.40,322.39 370.80,336.73 371.20,327.21 371.60,336.33 372.00,344.44 372.40,313.75 372.80,326.29 373.20,331.40 373.60,334.30 374.00,333.66 374.40,321.54 374.80,338.34 375.20,332.59 375.60,333.17 376.00,327.02 376.40,340.74 376.80,346.04 377.20,338.78 377.60,333.26 378.00,333.12 378.40,327.95 378.80,318.46 379.20,324.70 379.60,329.62 380.00,330.21 380.40,335.53 380.80,321.78 381.20,324.61 381.60,327.50 382.00,326.83 382.40,335.36 382.80,343.83 383.20,343.92 383.60,344.08 384.00,329.64 384.40,331.71 384.80,348.13 385.20,328.75 385.60,326.05 386.00,334.33 386.40,341.17 386.80,333.91 387.20,333.30 387.60,336.77 388.00,326.78 388.40,342.62 388.80,344.49 389.20,336.44 389.60,336.78 390.00,328.01 390.40,341.25 390.80,331.92 391.20,329.51 391.60,322.85 392.00,332.58 392.40,350.54 392.80,340.46 393.20,330.48 393.60,333.58 394.00,323.03 394.40,337.93 394.80,341.57 395.20,333.31 395.60,342.24 396.00,328.20 396.40,333.18 396.80,340.88 397.20,344.62 397.60,332.51 398.00,339.44 398.40,333.42 398.80,330.06 399.20,356.33 399.60,338.68 400.00,335.20 400.40,352.70 400.80,349.84 401.20,329.71 401.60,333.10 402.00,346.27 402.40,341.28 402.80,340.82 403.20,356.84 403.60,339.44 404.00,333.34 404.40,334.05 404.80,331.39 405.20,340.02 405.60,326.33 406.00,334.08 406.40,310.42 406.80,329.36 407.20,334.68 407.60,332.45 408.00,332.75 408.40,347.02 408.80,335.45 409.20,325.98 409.60,324.61 410.00,338.23 410.40,341.63 410.80,328.85 411.20,334.01 411.60,329.52 412.00,344.74 412.40,330.48 412.80,346.88 413.20,325.22 413.60,331.62 414.00,338.59 414.40,338.68 414.80,325.34 415.20,332.36 415.60,333.26 416.00,325.20 416.40,341.22 416.80,339.31 417.20,336.35 417.60,332.43 418.00,340.04 418.40,335.21 418.80,341.64 419.20,347.69 419.60,344.14 420.00,345.21 420.40,338.85 420.80,338.32 421.20,351.02 421.60,343.81 422.00,342.99 422.40,332.03 422.80,341.86 423.20,349.97 423.60,351.46 424.00,349.68 424.40,350.34 424.80,353.05 425.20,335.71 425.60,332.28 426.00,350.88 426.40,347.25 426.80,361.41 427.20,346.05 427.60,334.01 428.00,347.42 428.40,338.31 428.80,323.97 429.20,326.31 429.60,322.28 430.00,334.62 430.40,335.83 430.80,336.32 431.20,333.90 431.60,335.79 432.00,344.18 432.40,329.06 432.80,350.13 433.20,348.37 433.60,325.96 434.00,342.79 434.40,327.57 434.80,336.96 435.20,348.96 435.60,329.61 436.00,337.80 436.40,354.36 436.80,337.47 437.20,341.60 437.60,336.37 438.00,340.90 438.40,335.73 438.80,353.84 439.20,343.93 439.60,326.90 440.00,349.80 440.40,346.20 440.80,337.17 441.20,329.70 441.60,339.01 442.00,351.58 442.40,328.61 442.80,345.94 443.20,337.32 443.60,333.14 444.00,344.73 444.40,341.75 444.80,330.80 445.20,337.81 445.60,326.43 446.00,334.35 446.40,327.01 446.80,324.68 447.20,327.90 447.60,328.50 448.00,336.61 448.40,333.62 448.80,345.14 449.20,321.26 449.60,345.84 450.00,341.00 450.40,346.86 450.80,345.57 451.20,333.98 451.60,332.55 452.00,343.15 452.40,331.27 452.80,347.06 453.20,339.14 453.60,344.21 454.00,346.08 454.40,318.99 454.80,333.65 455.20,336.17 455.60,333.83 456.00,335.90 456.40,335.29 456.80,340.79 457.20,337.43 457.60,328.44 458.00,329.61 458.40,339.14 458.80,341.32 459.20,331.53 459.60,339.72 460.00,347.05 460.40,331.58 460.80,324.91 461.20,340.87 461.60,340.11 462.00,330.57 462.40,334.14 462.80,321.84 463.20,319.97 463.60,330.26 464.00,321.11 464.40,333.58 464.80,348.63 465.20,329.24 465.60,346.16 466.00,332.83 466.40,335.51 466.80,333.00 467.20,314.97 467.60,346.25 468.00,344.17 468.40,337.26 468.80,338.20 469.20,353.22 469.60,339.46 470.00,346.83 470.40,326.67 470.80,339.05 471.20,323.77 471.60,340.53 472.00,332.30 472.40,325.05 472.80,335.71 473.20,342.01 473.60,320.47 474.00,326.45 474.40,334.13 474.80,321.46 475.20,311.85 475.60,319.29 476.00,335.97 476.40,337.37 476.80,322.37 477.20,334.38 477.60,332.26 478.00,340.67 478.40,335.11 478.80,325.72 479.20,342.17 479.60,335.63 480.00,332.11 480.40,339.85 480.80,326.53 481.20,338.40 481.60,323.23 482.00,340.15 482.40,345.28 482.80,332.74 483.20,346.59 483.60,338.27 484.00,325.64 484.40,325.14 484.80,335.95 485.20,325.83 485.60,345.15 486.00,329.82 486.40,325.81 486.80,344.64 487.20,317.47 487.60,314.59 488.00,335.08 488.40,344.71 488.80,338.77 489.20,332.51 489.60,339.91 490.00,314.83 490.40,322.80 490.80,333.73 491.20,331.22 491.60,332.83 492.00,345.91 492.40,337.26 492.80,357.64 493.20,324.26 493.60,305.78 494.00,340.68 494.40,334.10 494.80,326.14 495.20,312.36 495.60,338.42 496.00,333.02 496.40,321.62 496.80,339.17 497.20,326.60 497.60,331.63 498.00,305.72 498.40,338.47 498.80,325.01 499.20,330.78 499.60,327.12 500.00,317.05 500.40,324.11 500.80,326.39 501.20,308.67 501.60,329.06 502.00,319.88 502.40,345.61 502.80,324.93 503.20,325.35 503.60,336.36 504.00,326.40 504.40,328.35 504.80,321.23 505.20,313.26 505.60,309.14 506.00,325.51 506.40,315.32 506.80,302.98 507.20,305.03 507.60,284.38 508.00,296.23 508.40,308.04 508.80,306.67 509.20,315.23 509.60,305.61 510.00,313.42 510.40,308.10 510.80,296.62 511.20,291.61 511.60,298.66 512.00,300.20 512.40,292.75 512.80,300.86 513.20,286.00 513.60,294.76 514.00,289.92 514.40,278.60 514.80,289.51 515.20,286.16 515.60,281.71 516.00,290.79 516.40,286.41 516.80,295.85 517.20,311.82 517.60,294.01 518.00,306.92 518.40,299.89 518.80,292.48 519.20,298.28 519.60,301.77 520.00,303.29 520.40,300.56 520.80,305.57 521.20,296.88 521.60,304.70 522.00,296.04 522.40,292.60 522.80,310.21 523.20,306.26 523.60,301.57 524.00,291.48 524.40,302.94 524.80,300.37 525.20,303.11 525.60,303.79 526.00,299.50 526.40,302.52 526.80,321.05 527.20,311.62 527.60,303.81 528.00,305.46 528.40,313.50 528.80,310.60 529.20,312.87 529.60,313.66 530.00,323.42 530.40,300.07 530.80,313.22 531.20,313.13 531.60,306.22 532.00,302.44 532.40,311.19 532.80,306.57 533.20,316.96 533.60,290.24 534.00,316.71 534.40,299.96 534.80,299.37 535.20,319.29 535.60,314.69 536.00,304.08 536.40,315.72 536.80,321.46 537.20,309.25 537.60,309.09 538.00,296.94 538.40,310.22 538.80,306.85 539.20,309.10 539.60,298.35 540.00,314.23 540.40,313.72 540.80,309.03 541.20,311.11 541.60,311.72 542.00,292.44 542.40,302.31 542.80,289.77 543.20,276.32 543.60,305.67 544.00,302.41 544.40,276.24 544.60,261.50 544.80,276.19 545.20,296.84 545.60,295.70 546.00,293.02 546.40,295.18 546.80,298.17 547.20,307.33 547.60,301.81 548.00,309.44 548.40,300.20 548.80,300.30 549.20,305.16 549.60,295.36 550.00,301.60 550.40,308.98 550.80,306.35 551.20,302.02 551.60,300.41 552.00,307.28 552.40,304.12 552.80,299.88 553.20,306.36 553.60,308.61 554.00,307.26 554.40,312.85 554.80,311.57 555.20,314.00 555.60,321.08 556.00,300.05 556.40,302.93 556.80,310.52 557.20,314.68 557.60,316.16 558.00,311.22 558.40,313.52 558.80,306.15 559.20,319.14 559.60,308.54 560.00,319.25 560.40,326.92 560.80,314.40 561.20,317.71 561.60,310.03 562.00,292.73 562.40,305.76 562.80,320.16 563.20,329.05 563.60,316.07 564.00,305.20 564.40,325.90 564.80,313.16 565.20,323.88 565.60,312.39 566.00,323.13 566.40,317.75 566.80,313.93 567.20,324.67 567.60,329.78 568.00,315.44 568.40,320.97 568.80,321.29 569.20,324.23 569.60,317.70 570.00,329.00 570.40,315.32 570.80,310.93 571.20,334.99 571.60,329.59 572.00,317.81 572.40,316.79 572.80,319.06 573.20,327.64 573.60,318.15 574.00,327.87 574.40,320.75 574.80,321.82 575.20,324.75 575.60,331.44 576.00,321.60 576.40,328.20 576.80,328.46 577.20,336.09 577.60,324.54 578.00,345.31 578.40,330.48 578.80,341.19 579.20,325.63 579.60,329.05 580.00,322.25 580.40,321.47 580.80,329.85 581.20,331.59 581.60,325.82 582.00,334.99 582.40,340.25 582.80,331.56 583.20,331.88 583.60,318.86 584.00,326.77 584.40,327.90 584.80,332.73 585.20,334.56 585.60,332.12 586.00,327.78 586.40,329.75 586.80,338.07 587.20,322.63 587.60,345.85 588.00,341.21 588.40,333.76 588.80,326.80 589.20,319.09 589.60,329.45 590.00,338.73 590.40,341.25 590.80,316.16 591.20,320.63 591.60,331.58 592.00,334.90 592.40,324.29 592.80,327.38 593.20,334.81 593.60,337.54 594.00,333.80 594.40,339.28 594.80,330.39 595.20,341.01 595.60,343.37 596.00,347.67 596.40,329.50 596.80,340.99 597.20,337.81 597.60,345.03 598.00,328.83 598.40,332.99 598.80,333.71 599.20,338.76 599.60,342.18 600.00,335.78 600.40,343.66 600.80,329.39 601.20,350.76 601.60,329.76 602.00,341.33 602.40,338.36 602.80,336.78 603.20,339.00 603.60,336.66 604.00,356.55 604.40,339.07 604.80,340.50 605.20,344.97 605.60,323.49 606.00,344.04 606.40,342.01 606.80,341.07 607.20,336.36 607.60,342.99 608.00,319.52 608.40,352.05 608.80,348.47 609.20,346.62 609.60,339.90 610.00,354.33 610.40,343.55 610.80,339.76 611.20,347.48 611.60,339.56 612.00,334.35 612.40,349.96 612.80,339.66 613.20,357.40 613.60,355.61 614.00,351.05 614.40,352.00 614.80,346.69 615.20,349.67 615.60,349.16 616.00,348.87 616.40,340.77 616.80,340.62 617.20,362.55 617.60,354.64 618.00,347.40 618.40,351.97 618.80,342.83 619.20,348.44 619.60,353.82 620.00,356.13 620.40,347.76 620.80,343.20 621.20,345.93 621.60,344.28 622.00,354.48 622.40,344.61 622.80,342.03 623.20,352.93 623.60,349.20 624.00,361.65 624.40,345.95 624.80,356.06 625.20,355.32 625.60,353.79 626.00,350.32 626.40,353.41 626.80,347.28 627.20,354.75 627.60,343.49 628.00,344.81 628.40,355.86 628.80,350.64 629.20,358.46 629.60,353.43 630.00,359.72 630.40,355.50 630.80,353.97 631.20,353.55 631.60,343.42 632.00,356.72 632.40,348.56 632.80,353.06 633.20,354.08 633.60,350.90 634.00,363.50 634.40,361.63 634.80,363.82 635.20,358.11 635.60,349.46 636.00,347.15 636.40,352.80 636.80,351.90 637.20,357.59 637.60,340.62 638.00,346.81 638.40,357.80 638.80,364.29 639.20,352.58 639.60,357.90 640.00,362.23 640.40,358.25 640.80,351.19 641.20,363.23 641.60,343.94 642.00,350.93 642.40,367.00 642.80,365.52 643.20,354.51 643.60,357.47 644.00,353.09 644.40,356.19 644.80,355.61 645.20,356.09 645.60,357.82 646.00,352.77 646.40,350.37 646.80,351.95 647.20,353.60 647.60,353.41 648.00,365.39 648.40,367.26 648.80,352.84 649.20,349.98 649.60,351.48 650.00,359.64 650.40,357.03 650.80,356.85 651.20,353.62 651.60,353.85 652.00,363.73 652.40,359.44 652.80,346.61 653.20,351.16 653.60,365.27 654.00,363.24 654.40,355.80 654.80,359.53 655.20,361.28 655.60,356.90 656.00,357.01 656.40,362.64 656.80,357.54 657.20,355.06 657.60,362.33 658.00,358.89 658.40,353.26 658.80,353.80 659.20,363.79 659.60,363.43 660.00,364.61 660.40,339.53 660.80,368.42 661.20,356.36 661.60,360.16 662.00,369.91 662.40,350.98 662.80,357.24 663.20,362.13 663.60,363.18 664.00,360.09 664.40,358.77 664.80,364.70 665.20,359.69 665.60,363.35 666.00,350.89 666.40,362.41 666.80,348.66 667.20,362.80 667.60,363.43 668.00,362.82 668.40,356.32 668.80,350.10 669.20,366.64 669.60,352.97 670.00,335.00 670.40,352.99 670.80,345.77 671.20,349.93 671.60,355.48 672.00,352.58 672.40,353.72 672.80,363.78 673.20,357.41 673.60,358.96 674.00,357.66 674.40,346.22 674.80,357.26 675.20,363.24 675.60,354.97 676.00,351.15 676.40,360.08 676.80,356.94 677.20,353.17 677.60,355.66 678.00,344.40 678.40,356.25 678.80,356.69 679.20,355.28 679.60,339.28 680.00,355.48 680.40,353.78 680.80,360.87 681.20,359.48 681.60,352.23 682.00,351.30 682.40,346.23 682.80,360.33 683.20,355.81 683.60,356.41 684.00,353.41 684.40,354.80 684.80,364.70 685.20,353.59 685.60,357.52 686.00,357.84 686.40,351.54 686.80,359.74 687.20,361.86 687.60,359.51 688.00,357.40 688.40,360.66 688.80,365.50 689.20,364.02 689.60,367.45 690.00,361.43 690.40,355.26 690.80,363.64 691.20,355.69 691.60,352.20 692.00,360.28 692.40,370.58 692.80,364.16 693.20,354.46 693.60,359.36 694.00,359.50 694.40,356.07 694.80,366.11 695.20,356.45 695.60,357.64 696.00,362.23 696.40,364.18 696.80,357.12 697.20,356.81 697.60,356.50 698.00,364.31 698.40,361.56 698.80,364.65 699.20,366.77 699.60,365.55"/>
<polyline fill="none" stroke="#000" stroke-width="0.5" stroke-linejoin="round" points="354.00,542.20 354.20,542.20 354.30,476.30 354.80,520.86 355.20,522.23 355.60,508.32 356.00,518.03 356.40,530.74 356.80,511.95 357.20,525.68 357.60,520.91 358.00,511.86 358.40,523.08 358.80,516.48 359.20,511.29 359.60,526.07 360.00,510.79 360.40,532.65 360.80,525.37 361.20,518.95 361.60,515.76 362.00,531.35 362.40,518.82 362.80,516.18 363.20,513.53 363.60,518.35 364.00,523.41 364.40,513.98 364.80,526.13 365.20,530.44 365.60,503.39 365.80,492.00 366.00,503.41 366.40,513.70 366.80,529.26 367.20,527.61 367.60,522.37 368.00,520.30 368.40,517.55 368.80,522.02 369.20,521.36 369.60,519.61 370.00,524.41 370.40,508.03 370.80,527.27 371.20,512.18 371.60,524.64 372.00,516.52 372.40,518.37 372.80,517.65 373.20,518.63 373.60,520.64 374.00,532.16 374.40,516.49 374.80,517.82 375.20,521.49 375.60,527.22 376.00,527.42 376.40,518.19 376.80,518.04 377.20,526.82 377.60,518.78 378.00,530.63 378.40,520.55 378.80,523.06 379.20,517.23 379.60,501.51 380.00,510.77 380.40,522.82 380.80,515.19 381.20,514.84 381.60,528.49 382.00,531.59 382.40,518.75 382.80,520.56 383.20,518.85 383.60,513.56 384.00,527.15 384.40,518.62 384.80,524.52 385.20,528.14 385.60,512.59 386.00,520.23 386.40,526.87 386.80,509.42 387.20,517.39 387.60,518.83 388.00,526.47 388.40,524.23 388.80,521.21 389.20,517.84 389.60,532.45 390.00,523.99 390.40,516.49 390.80,530.87 391.20,524.47 391.60,516.62 392.00,513.31 392.40,516.88 392.80,518.47 393.20,533.01 393.60,530.28 394.00,520.84 394.40,525.05 394.80,515.86 395.20,519.28 395.60,525.20 396.00,520.68 396.40,534.42 396.80,529.51 397.20,520.63 397.60,516.01 398.00,525.09 398.40,518.11 398.80,534.83 399.20,528.98 399.60,523.77 400.00,504.94 400.40,524.65 400.80,515.43 401.20,519.73 401.60,521.56 402.00,523.17 402.40,517.52 402.80,529.66 403.20,526.01 403.60,524.78 404.00,525.94 404.40,516.04 404.80,516.95 405.20,517.44 405.60,519.76 406.00,526.38 406.40,514.81 406.80,518.31 407.20,517.41 407.60,531.70 408.00,522.19 408.40,521.92 408.80,519.86 409.20,522.91 409.60,525.18 410.00,522.97 410.40,522.93 410.80,518.53 411.20,518.10 411.60,517.32 412.00,513.21 412.40,525.77 412.80,516.49 413.20,532.82 413.60,515.53 414.00,522.03 414.40,527.05 414.80,533.73 415.20,530.87 415.60,535.46 416.00,529.61 416.40,522.55 416.80,528.99 417.20,533.93 417.60,516.51 418.00,531.68 418.40,527.98 418.80,527.05 419.20,527.42 419.60,517.78 420.00,515.67 420.40,526.74 420.80,520.52 421.20,514.16 421.60,517.42 422.00,528.35 422.40,523.08 422.80,532.82 423.20,519.73 423.60,522.74 424.00,527.04 424.40,524.69 424.80,531.16 425.20,509.13 425.60,525.74 426.00,518.04 426.40,526.20 426.80,526.26 427.20,529.98 427.60,522.47 428.00,523.95 428.40,516.48 428.80,519.98 429.20,530.49 429.60,520.60 430.00,530.64 430.40,527.81 430.80,520.84 431.20,528.21 431.60,518.82 432.00,530.32 432.40,515.57 432.80,523.44 433.20,509.25 433.60,521.80 434.00,517.18 434.40,512.17 434.80,524.54 435.20,511.44 435.60,521.83 436.00,525.96 436.40,511.51 436.80,521.68 437.20,517.89 437.60,519.98 438.00,516.43 438.40,527.88 438.80,516.70 439.20,520.05 439.60,521.09 440.00,513.82 440.40,516.87 440.80,523.98 441.20,517.17 441.60,530.38 442.00,523.22 442.40,504.80 442.80,519.65 443.20,518.10 443.60,530.49 444.00,514.07 444.40,521.90 444.80,522.56 445.20,520.08 445.60,532.09 446.00,518.10 446.40,508.78 446.80,525.81 447.20,527.19 447.60,527.88 448.00,522.02 448.40,522.28 448.80,517.58 449.20,518.00 449.60,523.75 450.00,531.02 450.40,525.32 450.80,517.75 451.20,520.36 451.60,521.70 452.00,525.36 452.40,513.23 452.80,514.90 453.20,529.28 453.60,525.87 454.00,529.78 454.40,528.52 454.80,524.95 455.20,519.87 455.60,522.83 456.00,517.21 456.40,527.34 456.80,516.63 457.20,514.22 457.60,526.32 458.00,517.88 458.40,537.16 458.80,511.95 459.20,514.33 459.60,515.98 460.00,530.14 460.40,521.09 460.80,526.84 461.20,515.04 461.60,523.48 462.00,518.29 462.40,516.82 462.80,519.44 463.20,518.52 463.60,514.42 464.00,516.71 464.40,509.50 464.80,521.44 465.20,513.34 465.60,529.97 466.00,521.19 466.40,525.37 466.80,515.68 467.20,523.91 467.60,519.94 468.00,515.72 468.40,524.49 468.80,505.43 469.20,526.83 469.60,517.64 470.00,512.85 470.40,534.38 470.80,518.33 471.20,527.18 471.60,518.37 472.00,524.03 472.40,524.09 472.80,513.37 473.20,513.76 473.60,517.26 474.00,515.83 474.40,515.05 474.80,515.62 475.20,513.14 475.60,519.80 476.00,519.23 476.40,518.27 476.80,513.65 477.20,532.15 477.60,528.45 478.00,509.18 478.40,513.22 478.80,523.21 479.20,530.24 479.60,528.71 480.00,510.20 480.40,528.45 480.80,527.78 481.20,529.81 481.60,509.96 482.00,527.15 482.40,506.67 482.80,526.34 483.20,519.68 483.60,508.20 484.00,534.08 484.40,532.33 484.80,518.97 485.20,521.39 485.60,529.10 486.00,507.18 486.40,522.04 486.80,520.33 487.20,525.66 487.60,516.91 488.00,529.70 488.40,525.58 488.80,527.90 489.20,510.26 489.60,520.18 490.00,521.03 490.40,516.91 490.80,514.26 491.20,508.35 491.60,519.79 492.00,517.05 492.40,511.46 492.80,512.50 493.20,511.14 493.60,505.27 494.00,522.09 494.40,518.36 494.80,519.61 495.20,518.96 495.60,522.75 496.00,509.30 496.40,526.30 496.80,522.49 497.20,529.83 497.60,530.60 498.00,528.73 498.40,519.99 498.80,516.40 499.20,519.47 499.60,519.15 500.00,519.61 500.40,532.48 500.80,531.16 501.20,511.24 501.60,518.83 502.00,523.10 502.40,509.86 502.80,524.97 503.20,520.62 503.60,522.22 504.00,512.33 504.40,512.87 504.80,514.80 505.20,518.25 505.60,517.00 506.00,517.06 506.40,510.00 506.80,518.48 507.20,508.41 507.60,510.37 508.00,519.68 508.40,511.82 508.80,493.69 509.20,507.59 509.60,512.73 510.00,503.17 510.40,509.62 510.80,500.81 511.20,514.41 511.60,486.16 511.80,471.20 512.00,485.92 512.40,512.69 512.80,500.34 513.20,506.45 513.60,504.02 514.00,515.51 514.40,507.60 514.80,488.38 515.20,502.36 515.60,501.35 516.00,504.95 516.40,501.21 516.80,511.27 517.20,496.31 517.60,503.83 518.00,502.18 518.40,511.64 518.80,506.56 519.20,517.30 519.60,512.98 520.00,508.28 520.40,502.27 520.80,492.47 521.20,506.45 521.60,499.72 522.00,495.41 522.40,492.93 522.80,501.14 523.20,508.12 523.60,502.33 524.00,501.43 524.40,504.61 524.80,499.19 525.20,495.32 525.60,513.59 526.00,507.49 526.40,506.53 526.80,514.28 527.20,495.60 527.60,504.17 528.00,505.92 528.40,498.06 528.80,496.93 529.00,490.00 529.20,497.02 529.60,503.17 530.00,503.47 530.40,509.61 530.80,505.26 531.20,512.99 531.60,506.51 532.00,518.19 532.40,503.30 532.80,509.56 533.20,519.32 533.60,506.30 534.00,508.06 534.40,514.68 534.80,507.57 535.20,496.41 535.60,513.85 536.00,508.51 536.40,502.20 536.80,508.92 537.20,516.59 537.60,503.08 538.00,516.84 538.40,506.31 538.80,493.18 539.20,495.47 539.60,501.16 540.00,495.48 540.40,489.41 540.80,498.02 541.20,486.54 541.60,479.37 542.00,477.12 542.40,496.80 542.80,487.36 543.20,482.49 543.60,484.83 544.00,489.72 544.40,494.10 544.80,491.90 545.20,489.44 545.60,493.00 546.00,481.96 546.40,485.33 546.80,482.97 547.20,491.45 547.60,474.64 548.00,482.92 548.40,465.83 548.80,468.85 549.00,460.00 549.20,468.75 549.60,491.69 550.00,472.22 550.40,470.55 550.80,482.47 551.20,485.21 551.60,488.34 552.00,483.01 552.40,476.10 552.80,501.16 553.20,481.99 553.60,463.19 554.00,482.20 554.40,476.58 554.80,492.04 555.20,486.45 555.60,481.46 556.00,483.36 556.40,479.66 556.80,471.54 557.20,488.48 557.60,474.13 558.00,485.44 558.40,478.34 558.80,488.06 559.20,493.97 559.60,483.80 560.00,492.22 560.40,479.75 560.80,476.66 561.20,487.23 561.60,458.93 561.70,452.80 562.00,471.30 562.40,476.42 562.80,482.02 563.20,491.24 563.60,478.76 564.00,479.53 564.40,477.48 564.80,483.76 565.20,475.54 565.60,472.90 566.00,482.02 566.40,473.95 566.80,473.28 567.20,484.07 567.60,477.83 568.00,489.23 568.40,488.34 568.80,488.17 569.20,486.06 569.60,493.04 570.00,475.39 570.40,501.79 570.80,487.79 571.20,488.83 571.60,497.36 572.00,479.33 572.40,481.62 572.80,487.25 573.20,483.39 573.60,494.87 574.00,490.68 574.40,491.79 574.80,482.84 575.20,485.84 575.60,480.77 576.00,492.19 576.40,480.38 576.80,487.84 577.20,491.40 577.60,479.29 578.00,487.67 578.40,488.68 578.80,506.38 579.20,502.82 579.60,489.04 580.00,490.53 580.40,486.93 580.80,485.81 581.20,470.59 581.40,458.00 581.60,470.66 582.00,492.20 582.40,488.61 582.80,486.82 583.20,488.42 583.60,490.43 584.00,489.89 584.40,485.39 584.80,499.92 585.20,484.26 585.60,493.71 586.00,498.46 586.40,487.11 586.80,493.28 587.20,505.75 587.60,479.68 588.00,498.17 588.40,483.00 588.80,493.13 589.20,492.09 589.60,495.64 590.00,499.65 590.40,504.03 590.80,503.43 591.20,498.23 591.60,500.16 592.00,496.19 592.40,490.30 592.80,495.87 593.20,498.80 593.60,494.11 594.00,501.50 594.40,494.58 594.80,494.67 595.20,496.46 595.60,507.36 596.00,503.24 596.40,508.62 596.80,505.35 597.20,497.84 597.60,497.16 598.00,500.59 598.40,498.43 598.80,509.65 599.20,508.47 599.60,523.09 600.00,514.10 600.40,501.57 600.80,516.79 601.20,501.08 601.60,512.50 602.00,514.98 602.40,499.74 602.80,511.68 603.20,502.54 603.60,518.64 604.00,510.15 604.40,516.89 604.80,510.65 605.20,505.59 605.60,521.39 606.00,513.76 606.40,513.52 606.80,517.33 607.20,519.53 607.60,515.10 608.00,524.36 608.40,513.78 608.80,505.34 609.20,505.92 609.60,513.26 610.00,510.42 610.40,516.47 610.80,520.49 611.20,517.86 611.60,519.51 612.00,517.76 612.40,517.62 612.80,530.80 613.20,512.91 613.60,517.16 614.00,522.83 614.40,514.68 614.80,529.20 615.20,520.69 615.60,519.46 616.00,518.84 616.40,519.30 616.80,503.86 617.20,518.91 617.60,514.42 618.00,521.86 618.40,525.80 618.80,513.50 619.20,508.43 619.60,522.49 620.00,514.36 620.40,526.45 620.80,516.78 621.20,521.06 621.60,519.61 622.00,533.65 622.40,533.39 622.80,514.19 623.20,505.35 623.60,524.29 624.00,520.34 624.40,523.26 624.80,531.90 625.20,512.33 625.60,524.96 626.00,528.26 626.40,529.90 626.80,523.45 627.20,519.66 627.60,521.16 628.00,529.27 628.40,519.64 628.80,531.90 629.20,517.48 629.60,530.69 630.00,524.55 630.40,528.39 630.80,532.63 631.20,521.78 631.60,525.66 632.00,529.59 632.40,531.19 632.80,524.37 633.20,524.60 633.60,531.09 634.00,526.24 634.40,527.38 634.80,524.17 635.20,533.54 635.60,521.12 636.00,528.61 636.40,523.60 636.80,524.71 637.20,527.88 637.60,527.57 638.00,530.45 638.40,526.16 638.80,525.40 639.20,532.21 639.60,523.73 640.00,523.93 640.40,525.26 640.80,529.18 641.20,528.32 641.60,523.45 642.00,527.44 642.40,534.12 642.80,526.31 643.20,516.05 643.60,528.68 644.00,525.75 644.40,524.89 644.80,530.47 645.20,531.15 645.60,526.29 646.00,520.92 646.40,527.65 646.80,532.60 647.20,527.63 647.60,528.36 648.00,532.52 648.40,538.04 648.80,529.39 649.20,532.18 649.60,534.54 650.00,530.77 650.40,529.17 650.80,531.63 651.20,531.74 651.60,529.08 652.00,527.55 652.40,525.00 652.80,539.18 653.20,529.46 653.60,528.76 654.00,525.41 654.40,528.37 654.80,528.92 655.20,534.70 655.60,528.53 656.00,541.40 656.40,531.92 656.80,534.21 657.20,529.01 657.60,524.23 658.00,527.62 658.40,529.59 658.80,529.42 659.20,527.99 659.60,532.15 660.00,531.50 660.40,529.88 660.80,531.92 661.20,532.16 661.60,533.94 662.00,535.55 662.40,530.18 662.80,530.76 663.20,524.85 663.60,534.61 664.00,536.57 664.40,532.99 664.80,528.67 665.20,527.60 665.60,536.29 666.00,533.48 666.40,533.34 666.80,532.87 667.20,535.81 667.60,534.07 668.00,537.22 668.40,530.34 668.80,538.67 669.20,529.03 669.60,537.14 670.00,539.02 670.40,532.14 670.80,529.79 671.20,528.18 671.60,531.62 672.00,531.67 672.40,534.94 672.80,535.20 673.20,530.80 673.60,531.98 674.00,534.87 674.40,530.83 674.80,533.82 675.20,527.02 675.60,533.71 676.00,533.65 676.40,531.30 676.80,528.19 677.20,530.10 677.60,535.25 678.00,523.60 678.40,531.37 678.80,533.46 679.20,529.07 679.60,532.98 680.00,533.36 680.40,534.39 680.80,536.48 681.20,534.21 681.60,534.57 682.00,527.55 682.40,531.96 682.80,521.54 683.20,536.09 683.60,531.19 684.00,532.44 684.40,536.91 684.80,536.74 685.20,532.38 685.60,531.95 686.00,536.87 686.40,524.97 686.80,534.23 687.20,535.61 687.60,535.21 688.00,534.59 688.40,532.34 688.80,534.28 689.20,542.26 689.60,530.53 690.00,528.96 690.40,532.60 690.80,535.18 691.20,532.89 691.60,534.07 692.00,536.65 692.40,539.43 692.80,537.70 693.20,534.93 693.60,537.39 694.00,533.02 694.40,541.92 694.80,537.51 695.20,537.04 695.60,535.32 696.00,541.00 696.40,536.31 696.80,540.59 697.20,536.36 697.60,533.19 698.00,533.80 698.40,533.83 698.80,536.96 699.20,540.08 699.60,537.46"/>
<polyline fill="none" stroke="#000" stroke-width="0.5" stroke-linejoin="round" points="354.00,566.00 354.20,566.00 354.30,562.50 354.80,564.79 355.20,563.56 355.60,564.11 356.00,562.78 356.40,563.61 356.80,564.11 357.20,562.38 357.60,558.45 358.00,563.49 358.40,564.11 358.80,562.20 359.20,563.87 359.60,564.05 360.00,562.74 360.40,563.13 360.80,563.51 361.20,562.51 361.60,565.55 362.00,563.68 362.40,564.08 362.80,562.26 363.20,563.26 363.60,562.97 364.00,561.93 364.40,562.42 364.80,564.06 365.20,563.05 365.60,563.64 366.00,560.82 366.40,562.53 366.80,564.17 367.20,560.61 367.60,563.27 368.00,563.57 368.40,561.50 368.80,562.88 369.20,562.77 369.60,563.44 370.00,564.34 370.40,562.88 370.80,561.97 371.20,562.04 371.60,563.87 372.00,563.75 372.40,562.46 372.80,564.82 373.20,564.90 373.60,565.63 374.00,562.67 374.40,562.06 374.80,563.14 375.20,563.57 375.60,561.81 376.00,561.01 376.40,565.47 376.80,564.59 377.20,562.77 377.60,564.57 378.00,565.00 378.40,564.59 378.80,561.59 379.20,562.10 379.60,563.34 380.00,564.66 380.40,564.28 380.80,563.19 381.20,563.25 381.60,563.44 382.00,563.01 382.40,564.69 382.80,564.65 383.20,563.11 383.60,562.30 384.00,564.81 384.40,564.22 384.80,561.66 385.20,561.99 385.60,563.06 386.00,562.91 386.40,563.93 386.80,563.28 387.20,563.66 387.60,562.91 388.00,562.77 388.40,563.51 388.80,562.83 389.20,563.17 389.60,563.89 390.00,566.54 390.40,562.87 390.80,564.79 391.20,563.52 391.60,563.96 392.00,561.53 392.40,560.36 392.80,564.69 393.20,563.14 393.60,562.25 394.00,561.66 394.40,564.32 394.80,562.49 395.20,561.83 395.60,561.66 396.00,563.24 396.40,563.79 396.80,558.91 397.20,563.32 397.60,564.60 398.00,564.51 398.40,565.02 398.80,564.24 399.20,561.71 399.60,564.24 400.00,564.04 400.40,563.97 400.80,563.02 401.20,563.12 401.60,563.24 402.00,563.25 402.40,564.69 402.80,564.04 403.20,564.09 403.60,561.40 404.00,562.15 404.40,563.18 404.80,561.19 405.20,563.23 405.60,563.05 406.00,562.04 406.40,564.34 406.80,562.31 407.20,563.55 407.60,561.83 408.00,562.64 408.40,558.34 408.80,563.18 409.20,560.52 409.50,556.50 409.60,557.84 410.00,563.23 410.40,561.61 410.80,563.33 411.20,562.67 411.60,560.53 412.00,565.84 412.40,562.44 412.80,564.08 413.20,564.08 413.60,563.33 414.00,563.67 414.40,563.84 414.80,561.66 415.20,565.04 415.60,563.13 416.00,562.60 416.40,562.03 416.80,562.26 417.20,564.86 417.60,565.18 418.00,564.24 418.40,561.39 418.80,562.06 419.20,564.18 419.60,561.05 420.00,563.63 420.40,562.88 420.80,563.61 421.20,562.54 421.60,564.82 422.00,566.54 422.40,563.41 422.80,558.76 423.20,563.74 423.60,562.39 424.00,560.76 424.40,562.83 424.80,563.62 425.20,564.20 425.60,561.60 426.00,563.43 426.40,563.42 426.80,561.42 427.20,562.64 427.60,563.91 428.00,564.84 428.40,561.89 428.80,563.28 429.20,562.55 429.60,564.32 430.00,562.57 430.40,563.51 430.80,563.11 431.20,563.81 431.60,564.76 432.00,562.98 432.40,562.79 432.80,561.52 433.20,563.78 433.60,563.27 434.00,562.59 434.40,557.96 434.80,563.05 435.20,564.88 435.60,562.92 436.00,561.42 436.40,554.28 436.50,552.50 436.80,557.85 437.20,556.90 437.30,556.00 437.60,558.70 438.00,562.30 438.40,564.18 438.80,563.36 439.20,564.26 439.60,562.94 440.00,562.79 440.40,565.09 440.80,561.84 441.20,564.30 441.60,564.05 442.00,559.00 442.40,562.46 442.80,564.02 443.20,563.80 443.60,561.86 444.00,556.50 444.40,561.86 444.80,563.16 445.20,562.69 445.60,562.19 446.00,564.52 446.40,561.24 446.80,562.29 447.20,563.35 447.60,561.27 448.00,562.51 448.40,562.35 448.80,563.08 449.20,563.05 449.60,561.25 450.00,562.13 450.40,563.87 450.80,562.78 451.20,564.35 451.60,564.19 452.00,563.26 452.40,559.94 452.80,563.72 453.20,561.91 453.60,562.96 454.00,563.58 454.40,563.26 454.80,562.45 455.20,564.21 455.60,563.98 456.00,562.11 456.40,562.76 456.80,562.16 457.20,563.37 457.60,564.44 458.00,562.64 458.40,564.16 458.80,563.50 459.20,561.99 459.60,563.55 460.00,563.67 460.40,562.88 460.80,561.90 461.20,563.47 461.60,563.29 462.00,565.59 462.40,564.11 462.80,563.32 463.20,564.82 463.60,564.07 464.00,564.58 464.40,563.71 464.80,562.56 465.20,560.00 465.60,560.63 466.00,563.57 466.40,562.44 466.80,559.69 467.20,564.46 467.60,563.14 468.00,560.15 468.40,560.10 468.80,562.27 469.20,563.09 469.60,564.15 470.00,564.09 470.40,563.74 470.80,564.07 471.20,561.85 471.60,564.21 472.00,563.48 472.40,564.17 472.80,562.68 473.20,561.80 473.60,562.29 474.00,563.19 474.40,563.33 474.80,564.27 475.20,563.99 475.60,563.82 476.00,558.47 476.40,562.02 476.80,564.62 477.20,563.94 477.60,562.16 478.00,563.03 478.40,563.16 478.80,558.28 479.00,555.00 479.20,558.28 479.60,564.09 480.00,563.40 480.40,563.27 480.80,561.69 481.20,563.65 481.60,560.08 482.00,561.52 482.40,564.47 482.80,565.33 483.20,565.25 483.60,561.81 484.00,563.43 484.40,564.97 484.80,565.08 485.20,565.24 485.60,564.82 486.00,562.39 486.40,562.68 486.80,563.98 487.20,563.17 487.60,563.42 488.00,564.42 488.40,563.59 488.80,558.29 489.20,561.81 489.60,562.47 490.00,563.06 490.40,561.09 490.80,561.45 491.20,564.77 491.60,563.65 492.00,563.18 492.40,562.44 492.80,558.58 493.20,561.82 493.60,562.24 494.00,563.36 494.40,563.77 494.80,565.15 495.20,563.65 495.60,564.92 496.00,559.69 496.40,560.07 496.80,559.68 497.20,562.39 497.60,561.21 498.00,562.13 498.40,564.57 498.80,563.05 499.20,562.90 499.60,560.90 500.00,562.95 500.40,564.14 500.80,563.13 501.20,564.01 501.60,558.04 502.00,563.37 502.40,564.74 502.80,563.28 503.20,562.24 503.60,563.81 504.00,562.71 504.40,563.10 504.80,562.34 505.20,563.04 505.60,565.95 506.00,564.76 506.40,561.54 506.80,564.40 507.20,562.34 507.60,563.33 508.00,563.28 508.40,563.36 508.80,562.93 509.20,565.12 509.60,562.39 510.00,561.76 510.40,562.72 510.80,562.49 511.20,563.41 511.60,564.91 512.00,561.73 512.40,562.29 512.80,564.71 513.20,565.81 513.60,563.58 514.00,562.25 514.40,564.47 514.80,562.18 515.20,566.66 515.60,562.46 516.00,564.54 516.40,563.02 516.80,562.65 517.20,564.75 517.60,563.13 518.00,563.99 518.40,562.47 518.80,563.30 519.20,563.57 519.60,560.75 520.00,564.66 520.40,562.01 520.80,563.05 521.20,563.15 521.60,564.32 522.00,563.33 522.40,562.39 522.80,562.34 523.20,564.53 523.60,562.96 524.00,564.39 524.40,560.35 524.80,563.79 525.20,562.48 525.60,562.21 526.00,563.27 526.40,564.89 526.80,564.09 527.20,561.59 527.60,564.25 528.00,564.53 528.40,563.49 528.80,562.35 529.20,558.35 529.60,564.71 530.00,561.27 530.40,564.77 530.80,563.83 531.20,564.92 531.60,563.16 532.00,563.41 532.40,561.93 532.80,562.85 533.20,563.21 533.60,564.25 534.00,563.05 534.40,563.65 534.80,563.81 535.20,564.12 535.60,563.46 536.00,561.25 536.40,563.40 536.80,562.13 537.20,564.58 537.60,563.99 538.00,563.82 538.40,564.68 538.80,558.16 539.20,563.75 539.60,562.56 540.00,564.42 540.40,563.41 540.80,564.32 541.20,563.56 541.60,562.72 542.00,561.70 542.40,562.72 542.80,561.26 543.20,558.35 543.60,563.26 544.00,562.03 544.40,558.20 544.80,564.21 545.20,563.13 545.60,563.98 546.00,562.80 546.40,563.42 546.80,564.13 547.20,564.07 547.60,561.97 548.00,563.30 548.40,564.60 548.80,561.00 549.20,552.20 549.30,550.00 549.60,556.60 550.00,565.30 550.40,563.42 550.80,563.29 551.20,561.61 551.60,564.07 552.00,562.70 552.40,562.23 552.80,562.98 553.20,561.24 553.60,562.92 554.00,562.32 554.40,564.01 554.80,563.17 555.20,562.81 555.60,564.13 556.00,562.94 556.40,563.23 556.80,563.65 557.20,563.56 557.60,562.32 558.00,564.17 558.40,563.43 558.80,564.68 559.20,563.04 559.60,563.48 560.00,563.50 560.40,562.81 560.80,558.72 561.20,563.57 561.60,562.68 562.00,563.54 562.40,562.24 562.80,564.01 563.20,562.01 563.60,563.92 564.00,562.36 564.40,563.37 564.80,563.00 565.20,562.25 565.60,561.08 566.00,563.06 566.40,565.31 566.80,563.29 567.20,563.09 567.60,563.40 568.00,562.54 568.40,562.23 568.80,563.15 569.20,565.33 569.60,563.10 570.00,563.21 570.40,562.66 570.80,561.82 571.20,565.07 571.60,563.58 572.00,562.84 572.40,560.99 572.80,562.21 573.20,563.69 573.60,564.00 574.00,563.18 574.40,562.31 574.80,562.52 575.20,562.61 575.60,562.06 576.00,562.51 576.40,564.53 576.80,564.26 577.20,562.07 577.60,562.39 578.00,561.67 578.40,561.48 578.80,563.64 579.20,562.95 579.60,563.83 580.00,564.42 580.40,563.39 580.80,563.19 581.20,563.06 581.60,563.11 582.00,563.11 582.40,562.22 582.80,563.60 583.20,561.64 583.60,563.05 584.00,563.15 584.40,566.25 584.80,564.60 585.20,562.32 585.60,563.44 586.00,564.06 586.40,563.36 586.80,562.47 587.20,563.20 587.60,563.55 588.00,562.57 588.40,563.23 588.80,563.21 589.20,561.76 589.60,562.97 590.00,563.29 590.40,564.06 590.80,562.28 591.20,564.13 591.60,562.42 592.00,562.33 592.40,561.21 592.80,563.38 593.20,563.05 593.60,560.16 594.00,563.50 594.40,563.41 594.80,562.94 595.20,564.79 595.60,563.43 596.00,563.42 596.40,563.75 596.80,563.70 597.20,561.21 597.60,561.89 598.00,563.12 598.40,563.79 598.80,563.90 599.20,563.63 599.60,562.95 600.00,562.52 600.40,564.46 600.80,562.39 601.20,564.20 601.60,562.36 602.00,563.41 602.40,564.07 602.80,564.58 603.20,563.37 603.60,564.72 604.00,562.60 604.40,563.51 604.80,564.49 605.20,562.04 605.60,562.91 606.00,564.33 606.40,561.10 606.80,562.73 607.20,564.74 607.60,564.31 608.00,563.74 608.40,563.11 608.80,562.15 609.20,561.59 609.60,561.96 610.00,557.00 610.40,560.47 610.80,562.38 611.20,564.65 611.60,562.89 612.00,563.34 612.40,564.09 612.80,565.31 613.20,565.17 613.60,565.06 614.00,562.42 614.40,563.09 614.80,562.35 615.20,566.53 615.60,564.57 616.00,563.70 616.40,563.66 616.80,563.02 617.20,562.59 617.60,563.43 618.00,564.24 618.40,561.03 618.80,563.49 619.20,560.30 619.60,563.00 620.00,561.95 620.40,562.91 620.80,562.11 621.20,561.27 621.60,563.94 622.00,562.24 622.40,562.57 622.80,562.18 623.20,559.32 623.60,562.50 624.00,558.82 624.40,563.33 624.80,564.26 625.20,562.32 625.60,564.03 626.00,564.32 626.40,563.02 626.80,563.14 627.20,564.04 627.60,561.64 628.00,562.75 628.40,564.06 628.80,564.10 629.20,562.14 629.60,558.04 630.00,562.23 630.40,562.54 630.80,565.05 631.20,562.74 631.60,563.45 632.00,561.18 632.40,562.64 632.80,563.13 633.20,562.18 633.60,562.18 634.00,563.33 634.40,564.47 634.80,563.06 635.20,563.55 635.60,563.13 636.00,563.44 636.40,561.59 636.80,563.99 637.20,563.11 637.60,563.72 638.00,564.58 638.40,563.57 638.80,563.50 639.20,562.83 639.60,563.37 640.00,562.78 640.40,562.57 640.80,563.62 641.20,562.71 641.60,563.04 642.00,560.87 642.40,563.93 642.80,562.91 643.20,565.15 643.60,561.42 644.00,564.15 644.40,562.64 644.80,565.14 645.20,561.52 645.60,563.82 646.00,561.55 646.40,562.41 646.80,563.71 647.20,565.02 647.60,563.06 648.00,564.54 648.40,562.82 648.80,562.16 649.20,563.89 649.60,565.05 650.00,563.15 650.40,561.29 650.80,561.53 651.20,563.38 651.60,564.07 652.00,562.23 652.40,563.24 652.80,564.61 653.20,565.74 653.60,562.46 654.00,564.56 654.40,562.65 654.80,563.07 655.20,563.13 655.60,562.23 656.00,564.53 656.40,563.29 656.80,564.32 657.20,562.26 657.60,563.39 658.00,565.08 658.40,564.99 658.80,562.85 659.20,563.47 659.60,562.06 660.00,557.50 660.40,562.06 660.80,564.61 661.20,563.09 661.60,562.91 662.00,562.83 662.40,561.83 662.80,562.07 663.20,561.56 663.60,558.37 664.00,558.96 664.40,563.73 664.80,561.05 665.20,563.11 665.60,566.20 666.00,564.09 666.40,562.65 666.80,563.45 667.20,562.35 667.60,562.80 668.00,562.01 668.40,563.06 668.80,561.39 669.20,562.53 669.60,563.66 670.00,562.53 670.40,564.28 670.80,565.11 671.20,565.44 671.60,563.07 672.00,562.57 672.40,563.64 672.80,564.92 673.20,562.49 673.60,562.27 674.00,562.87 674.40,562.34 674.80,563.04 675.20,562.53 675.60,560.77 676.00,563.31 676.40,564.53 676.80,562.56 677.20,563.29 677.60,563.04 678.00,563.61 678.40,562.16 678.80,562.29 679.20,562.31 679.60,563.47 680.00,562.60 680.40,563.82 680.80,563.21 681.20,561.05 681.60,562.48 682.00,563.18 682.40,562.50 682.80,562.32 683.20,563.36 683.60,563.24 684.00,562.93 684.40,565.79 684.80,563.11 685.20,563.81 685.60,562.94 686.00,563.89 686.40,561.32 686.80,559.88 687.20,559.55 687.60,563.86 688.00,564.76 688.40,564.32 688.80,564.12 689.20,558.87 689.60,565.08 690.00,564.71 690.40,564.39 690.80,564.79 691.20,566.17 691.60,563.55 692.00,563.68 692.40,563.87 692.80,565.08 693.20,562.04 693.60,563.49 694.00,565.12 694.40,562.70 694.80,563.53 695.20,564.10 695.60,562.31 696.00,563.12 696.40,563.25 696.80,562.73 697.20,560.34 697.60,562.73 698.00,562.76 698.40,558.43 698.80,564.04 699.20,562.29 699.60,561.61"/>
<path d="M20.35,167.74L20.50,153.80L20.65,167.74M26.75,158.13L26.90,146.20L27.05,158.13M32.15,155.10L32.30,49.00L32.45,155.10M37.85,146.43L38.00,124.20L38.15,146.43M44.55,149.20L44.70,121.70L44.85,149.20M49.95,150.90L50.10,131.70L50.25,150.90M55.05,165.32L55.20,134.20L55.35,165.32M60.55,164.40L60.70,152.60L60.85,164.40M68.35,168.00L68.50,158.75L68.65,168.00M69.85,168.00L70.00,150.00L70.15,168.00M97.35,177.18L97.50,172.50L97.65,177.18M108.60,178.10L108.75,176.00L108.90,178.10M115.45,178.00L115.60,171.90L115.75,178.00M122.35,177.63L122.50,175.00L122.65,177.63M126.65,177.02L126.80,160.00L126.95,177.02M133.55,169.73L133.70,130.70L133.85,169.73M139.85,167.50L140.00,166.90L140.15,167.50M145.45,175.00L145.60,172.50L145.75,175.00M152.55,177.63L152.70,159.20L152.85,177.63M166.05,178.93L166.20,171.20L166.35,178.93M73.51,170.27L73.66,168.39L73.81,170.27M74.62,170.82L74.77,165.93L74.92,170.82M79.71,173.47L79.86,170.42L80.01,173.47M80.71,174.28L80.86,167.73L81.01,174.28M85.54,175.81L85.69,173.30L85.84,175.81M86.32,175.86L86.47,173.87L86.62,175.86M91.43,176.19L91.58,174.41L91.73,176.19M92.84,176.34L92.99,171.65L93.14,176.34M97.70,177.24L97.85,175.57L98.00,177.24M98.64,177.41L98.79,174.61L98.94,177.41M103.81,178.10L103.96,175.87L104.11,178.10M104.83,178.10L104.98,172.42L105.13,178.10M109.50,178.10L109.65,176.15L109.80,178.10M110.49,178.10L110.64,173.36L110.79,178.10M115.97,177.97L116.12,176.20L116.27,177.97M116.72,177.93L116.87,173.66L117.02,177.93M121.58,177.67L121.73,176.76L121.88,177.67M122.91,177.60L123.06,175.29L123.21,177.60M127.53,176.78L127.68,175.69L127.83,176.78M128.55,176.51L128.70,174.47L128.85,176.51M140.07,168.03L140.22,165.82L140.37,168.03M140.83,169.87L140.98,166.09L141.13,169.87M145.82,175.00L145.97,172.87L146.12,175.00M146.85,175.62L147.00,171.62L147.15,175.62M151.77,177.60L151.92,176.97L152.07,177.60M152.99,177.66L153.14,176.11L153.29,177.66M157.83,177.90L157.98,176.42L158.13,177.90M158.76,177.95L158.91,176.04L159.06,177.95M163.99,178.62L164.14,176.85L164.29,178.62M164.69,178.73L164.84,175.74L164.99,178.73M169.89,179.50L170.04,177.96L170.19,179.50M170.49,179.52L170.64,177.98L170.79,179.52M176.09,179.66L176.24,178.61L176.39,179.66M176.91,179.68L177.06,178.55L177.21,179.68M181.50,179.79L181.65,179.24L181.80,179.79M183.04,179.83L183.19,178.74L183.34,179.83M20.05,353.10L20.20,290.00L20.35,353.10M26.45,328.00L26.60,273.70L26.75,328.00M31.75,314.92L31.90,173.40L32.05,314.92M38.15,301.37L38.30,265.50L38.45,301.37M44.55,300.56L44.70,257.30L44.85,300.56M50.25,314.10L50.40,250.00L50.55,314.10M54.95,315.65L55.10,283.80L55.25,315.65M60.45,332.64L60.60,307.50L60.75,332.64M67.75,340.05L67.90,318.40L68.05,340.05M70.05,341.94L70.20,324.00L70.35,341.94M96.55,362.64L96.70,358.90L96.85,362.64M102.25,363.44L102.40,361.50L102.55,363.44M107.95,364.66L108.10,361.50L108.25,364.66M115.85,365.17L116.00,356.20L116.15,365.17M122.45,364.82L122.60,358.90L122.75,364.82M126.75,364.47L126.90,342.20L127.05,364.47M133.95,348.00L134.10,259.70L134.25,348.00M139.45,351.00L139.60,349.20L139.75,351.00M145.45,360.93L145.60,355.00L145.75,360.93M152.15,365.90L152.30,347.90L152.45,365.90M73.72,344.29L73.87,340.77L74.02,344.29M74.67,344.80L74.82,339.80L74.97,344.80M79.78,351.65L79.93,347.22L80.08,351.65M80.73,352.95L80.88,343.46L81.03,352.95M85.95,357.40L86.10,354.88L86.25,357.40M86.53,357.77L86.68,351.51L86.83,357.77M91.84,360.82L91.99,356.58L92.14,360.82M92.46,361.15L92.61,354.78L92.76,361.15M97.65,362.80L97.80,361.05L97.95,362.80M98.40,362.90L98.55,359.99L98.70,362.90M103.83,363.76L103.98,362.14L104.13,363.76M104.33,363.87L104.48,358.32L104.63,363.87M109.88,365.08L110.03,361.13L110.18,365.08M110.88,365.29L111.03,361.25L111.18,365.29M115.68,365.22L115.83,361.86L115.98,365.22M116.72,364.88L116.87,361.81L117.02,364.88M121.84,364.78L121.99,363.21L122.14,364.78M122.58,364.83L122.73,361.77L122.88,364.83M127.48,364.24L127.63,361.77L127.78,364.24M128.63,363.88L128.78,360.03L128.93,363.88M139.72,351.46L139.87,349.84L140.02,351.46M140.58,352.91L140.73,346.54L140.88,352.91M145.77,361.28L145.92,358.57L146.07,361.28M146.55,362.15L146.70,356.86L146.85,362.15M151.95,365.90L152.10,364.86L152.25,365.90M152.89,365.90L153.04,361.60L153.19,365.90M158.03,366.73L158.18,364.59L158.33,366.73M158.97,367.12L159.12,364.25L159.27,367.12M163.60,368.77L163.75,367.91L163.90,368.77M164.59,368.97L164.74,364.13L164.89,368.97M169.95,370.06L170.10,367.78L170.25,370.06M170.91,370.25L171.06,368.40L171.21,370.25M176.16,370.97L176.31,368.91L176.46,370.97M176.63,371.04L176.78,369.45L176.93,371.04M181.83,371.74L181.98,370.96L182.13,371.74M182.86,371.87L183.01,370.41L183.16,371.87M20.35,535.50L20.50,505.70L20.65,535.50M26.45,523.14L26.60,488.40L26.75,523.14M31.75,515.33L31.90,372.20L32.05,515.33M38.15,505.45L38.30,480.20L38.45,505.45M44.55,505.82L44.70,470.10L44.85,505.82M50.25,507.67L50.40,465.60L50.55,507.67M54.95,506.50L55.10,474.70L55.25,506.50M60.45,517.83L60.60,497.50L60.75,517.83M67.75,522.71L67.90,508.40L68.05,522.71M69.55,523.00L69.70,495.70L69.85,523.00M95.85,535.49L96.00,532.00L96.15,535.49M104.85,536.91L105.00,534.00L105.15,536.91M115.45,534.34L115.60,530.00L115.75,534.34M120.85,535.42L121.00,534.00L121.15,535.42M126.85,536.04L127.00,515.40L127.15,536.04M133.65,525.46L133.80,464.60L133.95,525.46M140.15,526.24L140.30,522.90L140.45,526.24M152.05,534.37L152.20,516.60L152.35,534.37M166.25,538.84L166.40,533.80L166.55,538.84M73.80,524.44L73.95,522.90L74.10,524.44M74.63,524.72L74.78,518.51L74.93,524.72M79.42,529.12L79.57,527.46L79.72,529.12M80.46,530.10L80.61,524.84L80.76,530.10M85.44,532.76L85.59,530.11L85.74,532.76M86.49,533.10L86.64,526.82L86.79,533.10M91.99,534.84L92.14,533.38L92.29,534.84M92.55,534.94L92.70,529.03L92.85,534.94M97.55,535.78L97.70,534.84L97.85,535.78M98.64,535.97L98.79,533.34L98.94,535.97M103.80,536.82L103.95,535.84L104.10,536.82M104.59,536.89L104.74,535.19L104.89,536.89M109.99,537.33L110.14,536.01L110.29,537.33M110.73,537.39L110.88,533.28L111.03,537.39M115.77,533.26L115.92,531.19L116.07,533.26M116.72,533.65L116.87,528.86L117.02,533.65M121.96,535.76L122.11,534.68L122.26,535.76M122.69,535.98L122.84,533.93L122.99,535.98M127.90,535.50L128.05,533.73L128.20,535.50M128.97,534.96L129.12,533.02L129.27,534.96M139.94,525.96L140.09,524.56L140.24,525.96M140.50,526.71L140.65,525.37L140.80,526.71M145.91,532.99L146.06,530.85L146.21,532.99M146.81,533.20L146.96,531.28L147.11,533.20M151.94,534.35L152.09,533.52L152.24,534.35M152.69,534.52L152.84,530.71L152.99,534.52M157.88,536.09L158.03,534.47L158.18,536.09M158.75,536.38L158.90,533.41L159.05,536.38M163.88,538.07L164.03,536.83L164.18,538.07M165.21,538.50L165.36,537.23L165.51,538.50M169.99,539.87L170.14,538.75L170.29,539.87M170.78,539.99L170.93,537.17L171.08,539.99M175.93,540.78L176.08,539.56L176.23,540.78M176.92,540.93L177.07,539.51L177.22,540.93M181.83,541.68L181.98,540.43L182.13,541.68M182.89,541.84L183.04,539.49L183.19,541.84" stroke="#333" stroke-width="0.4" fill="none"/>
<line x1="12.5" y1="22" x2="12.5" y2="577" stroke="#444" stroke-width="1"/>
<line x1="12" y1="577" x2="701.5" y2="577" stroke="#000" stroke-width="1.9"/>
<path d="M13.00,577V588M55.97,577V582.8M98.94,577V588M141.91,577V582.8M184.88,577V588M227.85,577V582.8M270.82,577V588M313.79,577V582.8M356.76,577V588M399.73,577V582.8M442.70,577V588M485.67,577V582.8M528.64,577V588M571.61,577V582.8M614.58,577V588M657.55,577V582.8M700.52,577V588" stroke="#000" stroke-width="1.8" fill="none"/>
<g fill="#000"><circle cx="190.00" cy="12.10" r="1.25"/><circle cx="190.00" cy="23.20" r="1.25"/><circle cx="190.00" cy="34.29" r="1.25"/><circle cx="190.00" cy="45.38" r="1.25"/><circle cx="190.00" cy="56.48" r="1.25"/><circle cx="190.00" cy="67.58" r="1.25"/><circle cx="190.00" cy="78.67" r="1.25"/><circle cx="190.00" cy="89.77" r="1.25"/><circle cx="190.00" cy="100.86" r="1.25"/><circle cx="190.00" cy="111.95" r="1.25"/><circle cx="190.00" cy="123.05" r="1.25"/><circle cx="190.00" cy="134.15" r="1.25"/><circle cx="190.00" cy="145.24" r="1.25"/><circle cx="190.00" cy="156.34" r="1.25"/><circle cx="190.00" cy="167.43" r="1.25"/><circle cx="190.00" cy="178.53" r="1.25"/><circle cx="190.00" cy="189.62" r="1.25"/><circle cx="190.00" cy="200.72" r="1.25"/><circle cx="190.00" cy="211.81" r="1.25"/><circle cx="190.00" cy="222.91" r="1.25"/><circle cx="190.00" cy="234.00" r="1.25"/><circle cx="190.00" cy="245.09" r="1.25"/><circle cx="190.00" cy="256.19" r="1.25"/><circle cx="190.00" cy="267.29" r="1.25"/><circle cx="190.00" cy="278.38" r="1.25"/><circle cx="190.00" cy="289.48" r="1.25"/><circle cx="190.00" cy="300.57" r="1.25"/><circle cx="190.00" cy="311.67" r="1.25"/><circle cx="190.00" cy="322.76" r="1.25"/><circle cx="190.00" cy="333.86" r="1.25"/><circle cx="190.00" cy="344.95" r="1.25"/><circle cx="190.00" cy="356.05" r="1.25"/><circle cx="190.00" cy="367.14" r="1.25"/><circle cx="190.00" cy="378.24" r="1.25"/><circle cx="190.00" cy="389.33" r="1.25"/><circle cx="190.00" cy="400.43" r="1.25"/><circle cx="190.00" cy="411.52" r="1.25"/><circle cx="190.00" cy="422.62" r="1.25"/><circle cx="190.00" cy="433.71" r="1.25"/><circle cx="190.00" cy="444.81" r="1.25"/><circle cx="190.00" cy="455.90" r="1.25"/><circle cx="190.00" cy="467.00" r="1.25"/><circle cx="190.00" cy="478.09" r="1.25"/><circle cx="190.00" cy="489.19" r="1.25"/><circle cx="190.00" cy="500.28" r="1.25"/><circle cx="190.00" cy="511.38" r="1.25"/><circle cx="190.00" cy="522.47" r="1.25"/><circle cx="190.00" cy="533.57" r="1.25"/><circle cx="190.00" cy="544.66" r="1.25"/><circle cx="190.00" cy="555.76" r="1.25"/><circle cx="190.00" cy="566.85" r="1.25"/><circle cx="272.40" cy="12.10" r="1.25"/><circle cx="272.40" cy="23.20" r="1.25"/><circle cx="272.40" cy="34.29" r="1.25"/><circle cx="272.40" cy="45.38" r="1.25"/><circle cx="272.40" cy="56.48" r="1.25"/><circle cx="272.40" cy="67.58" r="1.25"/><circle cx="272.40" cy="78.67" r="1.25"/><circle cx="272.40" cy="89.77" r="1.25"/><circle cx="272.40" cy="100.86" r="1.25"/><circle cx="272.40" cy="111.95" r="1.25"/><circle cx="272.40" cy="123.05" r="1.25"/><circle cx="272.40" cy="134.15" r="1.25"/><circle cx="272.40" cy="145.24" r="1.25"/><circle cx="272.40" cy="156.34" r="1.25"/><circle cx="272.40" cy="167.43" r="1.25"/><circle cx="272.40" cy="178.53" r="1.25"/><circle cx="272.40" cy="189.62" r="1.25"/><circle cx="272.40" cy="200.72" r="1.25"/><circle cx="272.40" cy="211.81" r="1.25"/><circle cx="272.40" cy="222.91" r="1.25"/><circle cx="272.40" cy="234.00" r="1.25"/><circle cx="272.40" cy="245.09" r="1.25"/><circle cx="272.40" cy="256.19" r="1.25"/><circle cx="272.40" cy="267.29" r="1.25"/><circle cx="272.40" cy="278.38" r="1.25"/><circle cx="272.40" cy="289.48" r="1.25"/><circle cx="272.40" cy="300.57" r="1.25"/><circle cx="272.40" cy="311.67" r="1.25"/><circle cx="272.40" cy="322.76" r="1.25"/><circle cx="272.40" cy="333.86" r="1.25"/><circle cx="272.40" cy="344.95" r="1.25"/><circle cx="272.40" cy="356.05" r="1.25"/><circle cx="272.40" cy="367.14" r="1.25"/><circle cx="272.40" cy="378.24" r="1.25"/><circle cx="272.40" cy="389.33" r="1.25"/><circle cx="272.40" cy="400.43" r="1.25"/><circle cx="272.40" cy="411.52" r="1.25"/><circle cx="272.40" cy="422.62" r="1.25"/><circle cx="272.40" cy="433.71" r="1.25"/><circle cx="272.40" cy="444.81" r="1.25"/><circle cx="272.40" cy="455.90" r="1.25"/><circle cx="272.40" cy="467.00" r="1.25"/><circle cx="272.40" cy="478.09" r="1.25"/><circle cx="272.40" cy="489.19" r="1.25"/><circle cx="272.40" cy="500.28" r="1.25"/><circle cx="272.40" cy="511.38" r="1.25"/><circle cx="272.40" cy="522.47" r="1.25"/><circle cx="272.40" cy="533.57" r="1.25"/><circle cx="272.40" cy="544.66" r="1.25"/><circle cx="272.40" cy="555.76" r="1.25"/><circle cx="272.40" cy="566.85" r="1.25"/><circle cx="353.90" cy="21.60" r="1.25"/><circle cx="353.90" cy="32.70" r="1.25"/><circle cx="353.90" cy="43.79" r="1.25"/><circle cx="353.90" cy="54.88" r="1.25"/><circle cx="353.90" cy="65.98" r="1.25"/><circle cx="353.90" cy="77.08" r="1.25"/><circle cx="353.90" cy="88.17" r="1.25"/><circle cx="353.90" cy="99.27" r="1.25"/><circle cx="353.90" cy="110.36" r="1.25"/><circle cx="353.90" cy="121.45" r="1.25"/><circle cx="353.90" cy="132.55" r="1.25"/><circle cx="353.90" cy="143.65" r="1.25"/><circle cx="353.90" cy="154.74" r="1.25"/><circle cx="353.90" cy="165.84" r="1.25"/><circle cx="353.90" cy="176.93" r="1.25"/><circle cx="353.90" cy="188.03" r="1.25"/><circle cx="353.90" cy="199.12" r="1.25"/><circle cx="353.90" cy="210.22" r="1.25"/><circle cx="353.90" cy="221.31" r="1.25"/><circle cx="353.90" cy="232.41" r="1.25"/><circle cx="353.90" cy="243.50" r="1.25"/><circle cx="353.90" cy="254.59" r="1.25"/><circle cx="353.90" cy="265.69" r="1.25"/><circle cx="353.90" cy="276.79" r="1.25"/><circle cx="353.90" cy="287.88" r="1.25"/><circle cx="353.90" cy="298.98" r="1.25"/><circle cx="353.90" cy="310.07" r="1.25"/><circle cx="353.90" cy="321.17" r="1.25"/><circle cx="353.90" cy="332.26" r="1.25"/><circle cx="353.90" cy="343.36" r="1.25"/><circle cx="353.90" cy="354.45" r="1.25"/><circle cx="353.90" cy="365.55" r="1.25"/><circle cx="353.90" cy="376.64" r="1.25"/><circle cx="353.90" cy="387.74" r="1.25"/><circle cx="353.90" cy="398.83" r="1.25"/><circle cx="353.90" cy="409.93" r="1.25"/><circle cx="353.90" cy="421.02" r="1.25"/><circle cx="353.90" cy="432.12" r="1.25"/><circle cx="353.90" cy="443.21" r="1.25"/><circle cx="353.90" cy="454.31" r="1.25"/><circle cx="353.90" cy="465.40" r="1.25"/><circle cx="353.90" cy="476.50" r="1.25"/><circle cx="353.90" cy="487.59" r="1.25"/><circle cx="353.90" cy="498.69" r="1.25"/><circle cx="353.90" cy="509.78" r="1.25"/><circle cx="353.90" cy="520.88" r="1.25"/><circle cx="353.90" cy="531.97" r="1.25"/><circle cx="353.90" cy="543.07" r="1.25"/><circle cx="353.90" cy="554.16" r="1.25"/><circle cx="353.90" cy="565.26" r="1.25"/><circle cx="194.10" cy="11.60" r="1.25"/><circle cx="205.19" cy="11.60" r="1.25"/><circle cx="216.29" cy="11.60" r="1.25"/><circle cx="227.38" cy="11.60" r="1.25"/><circle cx="238.48" cy="11.60" r="1.25"/><circle cx="249.57" cy="11.60" r="1.25"/><circle cx="260.67" cy="11.60" r="1.25"/><circle cx="271.77" cy="11.60" r="1.25"/><circle cx="282.86" cy="11.60" r="1.25"/><circle cx="293.96" cy="11.60" r="1.25"/><circle cx="305.05" cy="11.60" r="1.25"/><circle cx="316.15" cy="11.60" r="1.25"/><circle cx="327.24" cy="11.60" r="1.25"/><circle cx="338.34" cy="11.60" r="1.25"/><circle cx="349.43" cy="11.60" r="1.25"/><circle cx="360.53" cy="11.60" r="1.25"/><circle cx="371.62" cy="11.60" r="1.25"/><circle cx="382.72" cy="11.60" r="1.25"/><circle cx="393.81" cy="11.60" r="1.25"/><circle cx="404.91" cy="11.60" r="1.25"/><circle cx="416.00" cy="11.60" r="1.25"/><circle cx="427.10" cy="11.60" r="1.25"/><circle cx="438.19" cy="11.60" r="1.25"/><circle cx="449.29" cy="11.60" r="1.25"/><circle cx="460.38" cy="11.60" r="1.25"/><circle cx="471.48" cy="11.60" r="1.25"/><circle cx="482.57" cy="11.60" r="1.25"/><circle cx="493.67" cy="11.60" r="1.25"/><circle cx="504.76" cy="11.60" r="1.25"/><circle cx="515.86" cy="11.60" r="1.25"/><circle cx="526.95" cy="11.60" r="1.25"/><circle cx="538.05" cy="11.60" r="1.25"/><circle cx="549.14" cy="11.60" r="1.25"/><circle cx="560.24" cy="11.60" r="1.25"/><circle cx="571.33" cy="11.60" r="1.25"/><circle cx="582.43" cy="11.60" r="1.25"/><circle cx="593.52" cy="11.60" r="1.25"/><circle cx="604.62" cy="11.60" r="1.25"/><circle cx="615.71" cy="11.60" r="1.25"/><circle cx="626.81" cy="11.60" r="1.25"/><circle cx="637.90" cy="11.60" r="1.25"/><circle cx="649.00" cy="11.60" r="1.25"/><circle cx="660.09" cy="11.60" r="1.25"/><circle cx="671.19" cy="11.60" r="1.25"/><circle cx="682.28" cy="11.60" r="1.25"/><circle cx="693.38" cy="11.60" r="1.25"/><circle cx="704.47" cy="11.60" r="1.25"/></g>
<g fill="#000"><ellipse cx="418.00" cy="100.40" rx="1.6" ry="1.05" transform="rotate(-39 418.00 100.40)"/><ellipse cx="407.10" cy="109.50" rx="1.6" ry="1.05" transform="rotate(-39 407.10 109.50)"/><ellipse cx="396.30" cy="118.20" rx="1.6" ry="1.05" transform="rotate(-39 396.30 118.20)"/><ellipse cx="384.60" cy="127.00" rx="1.6" ry="1.05" transform="rotate(-39 384.60 127.00)"/></g>
<path d="M715,7.2 L730.5,11.6 L715,15.6 L716.5,11.6Z" fill="#000"/>
<path d="M369.4,140.2 L377.9,128.3 L383,134.7Z" fill="#000"/>
<path d="M52.30,116.60L52.30,112.00M52.30,116.60L56.67,115.18M52.30,116.60L55.00,120.32M52.30,116.60L49.60,120.32M52.30,116.60L47.93,115.18M137.00,117.10L137.00,112.50M137.00,117.10L141.37,115.68M137.00,117.10L139.70,120.82M137.00,117.10L134.30,120.82M137.00,117.10L132.63,115.68M240.70,75.50L240.70,70.90M240.70,75.50L245.07,74.08M240.70,75.50L243.40,79.22M240.70,75.50L238.00,79.22M240.70,75.50L236.33,74.08M231.60,146.10L231.60,141.50M231.60,146.10L235.97,144.68M231.60,146.10L234.30,149.82M231.60,146.10L228.90,149.82M231.60,146.10L227.23,144.68M287.60,109.30L287.60,104.70M287.60,109.30L291.97,107.88M287.60,109.30L290.30,113.02M287.60,109.30L284.90,113.02M287.60,109.30L283.23,107.88M297.60,75.50L297.60,70.90M297.60,75.50L301.97,74.08M297.60,75.50L300.30,79.22M297.60,75.50L294.90,79.22M297.60,75.50L293.23,74.08M482.00,119.80L482.00,115.20M482.00,119.80L486.37,118.38M482.00,119.80L484.70,123.52M482.00,119.80L479.30,123.52M482.00,119.80L477.63,118.38M512.40,34.60L512.40,30.00M512.40,34.60L516.77,33.18M512.40,34.60L515.10,38.32M512.40,34.60L509.70,38.32M512.40,34.60L508.03,33.18M543.20,54.00L543.20,49.40M543.20,54.00L547.57,52.58M543.20,54.00L545.90,57.72M543.20,54.00L540.50,57.72M543.20,54.00L538.83,52.58M573.70,104.30L573.70,99.70M573.70,104.30L578.07,102.88M573.70,104.30L576.40,108.02M573.70,104.30L571.00,108.02M573.70,104.30L569.33,102.88M55.00,241.10L55.00,236.50M55.00,241.10L59.37,239.68M55.00,241.10L57.70,244.82M55.00,241.10L52.30,244.82M55.00,241.10L50.63,239.68M137.00,249.10L137.00,244.50M137.00,249.10L141.37,247.68M137.00,249.10L139.70,252.82M137.00,249.10L134.30,252.82M137.00,249.10L132.63,247.68M241.90,284.70L241.90,280.10M241.90,284.70L246.27,283.28M241.90,284.70L244.60,288.42M241.90,284.70L239.20,288.42M241.90,284.70L237.53,283.28M231.40,324.20L231.40,319.60M231.40,324.20L235.77,322.78M231.40,324.20L234.10,327.92M231.40,324.20L228.70,327.92M231.40,324.20L227.03,322.78M286.10,272.10L286.10,267.50M286.10,272.10L290.47,270.68M286.10,272.10L288.80,275.82M286.10,272.10L283.40,275.82M286.10,272.10L281.73,270.68M297.40,260.40L297.40,255.80M297.40,260.40L301.77,258.98M297.40,260.40L300.10,264.12M297.40,260.40L294.70,264.12M297.40,260.40L293.03,258.98M514.40,260.60L514.40,256.00M514.40,260.60L518.77,259.18M514.40,260.60L517.10,264.32M514.40,260.60L511.70,264.32M514.40,260.60L510.03,259.18M545.10,246.10L545.10,241.50M545.10,246.10L549.47,244.68M545.10,246.10L547.80,249.82M545.10,246.10L542.40,249.82M545.10,246.10L540.73,244.68M52.60,455.30L52.60,450.70M52.60,455.30L56.97,453.88M52.60,455.30L55.30,459.02M52.60,455.30L49.90,459.02M52.60,455.30L48.23,453.88M138.30,453.80L138.30,449.20M138.30,453.80L142.67,452.38M138.30,453.80L141.00,457.52M138.30,453.80L135.60,457.52M138.30,453.80L133.93,452.38M240.00,455.10L240.00,450.50M240.00,455.10L244.37,453.68M240.00,455.10L242.70,458.82M240.00,455.10L237.30,458.82M240.00,455.10L235.63,453.68M231.00,509.10L231.00,504.50M231.00,509.10L235.37,507.68M231.00,509.10L233.70,512.82M231.00,509.10L228.30,512.82M231.00,509.10L226.63,507.68M285.80,453.50L285.80,448.90M285.80,453.50L290.17,452.08M285.80,453.50L288.50,457.22M285.80,453.50L283.10,457.22M285.80,453.50L281.43,452.08M295.80,431.90L295.80,427.30M295.80,431.90L300.17,430.48M295.80,431.90L298.50,435.62M295.80,431.90L293.10,435.62M295.80,431.90L291.43,430.48M514.40,458.50L514.40,453.90M514.40,458.50L518.77,457.08M514.40,458.50L517.10,462.22M514.40,458.50L511.70,462.22M514.40,458.50L510.03,457.08M549.30,444.00L549.30,439.40M549.30,444.00L553.67,442.58M549.30,444.00L552.00,447.72M549.30,444.00L546.60,447.72M549.30,444.00L544.93,442.58" stroke="#000" stroke-width="2.1" stroke-linecap="round" fill="none"/>
<g transform="translate(13.00,620.00) scale(1.0,1.04)"><text x="-8.90" y="0" font-size="32" font-family="Liberation Sans, sans-serif" stroke="#000" stroke-width="0.3" xml:space="preserve">0</text></g>
<g transform="translate(98.94,620.00) scale(1.0,1.04)"><text x="-26.70" y="0" font-size="32" font-family="Liberation Sans, sans-serif" stroke="#000" stroke-width="0.3" xml:space="preserve">200</text></g>
<g transform="translate(184.88,620.00) scale(1.0,1.04)"><text x="-26.70" y="0" font-size="32" font-family="Liberation Sans, sans-serif" stroke="#000" stroke-width="0.3" xml:space="preserve">400</text></g>
<g transform="translate(270.82,620.00) scale(1.0,1.04)"><text x="-26.70" y="0" font-size="32" font-family="Liberation Sans, sans-serif" stroke="#000" stroke-width="0.3" xml:space="preserve">600</text></g>
<g transform="translate(356.76,620.00) scale(1.0,1.04)"><text x="-26.70" y="0" font-size="32" font-family="Liberation Sans, sans-serif" stroke="#000" stroke-width="0.3" xml:space="preserve">800</text></g>
<g transform="translate(442.70,620.00) scale(1.0,1.04)"><path transform="translate(-35.59,0) scale(0.01562,-0.01562)" d="M515,0L696,0L696,1409L530,1409L197,1180L197,1010L515,1237Z" stroke="#000" stroke-width="19.2"/><text x="-17.80" y="0" font-size="32" font-family="Liberation Sans, sans-serif" stroke="#000" stroke-width="0.3" xml:space="preserve">000</text></g>
<g transform="translate(528.64,620.00) scale(1.0,1.04)"><path transform="translate(-35.59,0) scale(0.01562,-0.01562)" d="M515,0L696,0L696,1409L530,1409L197,1180L197,1010L515,1237Z" stroke="#000" stroke-width="19.2"/><text x="-17.80" y="0" font-size="32" font-family="Liberation Sans, sans-serif" stroke="#000" stroke-width="0.3" xml:space="preserve">200</text></g>
<g transform="translate(614.58,620.00) scale(1.0,1.04)"><path transform="translate(-35.59,0) scale(0.01562,-0.01562)" d="M515,0L696,0L696,1409L530,1409L197,1180L197,1010L515,1237Z" stroke="#000" stroke-width="19.2"/><text x="-17.80" y="0" font-size="32" font-family="Liberation Sans, sans-serif" stroke="#000" stroke-width="0.3" xml:space="preserve">400</text></g>
<g transform="translate(700.52,620.00) scale(1.0,1.04)"><path transform="translate(-35.59,0) scale(0.01562,-0.01562)" d="M515,0L696,0L696,1409L530,1409L197,1180L197,1010L515,1237Z" stroke="#000" stroke-width="19.2"/><text x="-17.80" y="0" font-size="32" font-family="Liberation Sans, sans-serif" stroke="#000" stroke-width="0.3" xml:space="preserve">600</text></g>
<g transform="translate(285.50,646.00) scale(1.02,1.05)"><text x="0.00" y="0" font-size="32" font-family="Liberation Sans, sans-serif" stroke="#000" stroke-width="0.3" xml:space="preserve">Mass (m/z)</text></g>
<g transform="translate(219.00,40.30) scale(0.93,1.05)"><text x="0.00" y="0" font-size="32" font-family="Liberation Sans, sans-serif" stroke="#000" stroke-width="0.3" xml:space="preserve">5</text></g>
<g transform="translate(283.30,41.60) scale(1.0,1.05)"><text x="0.00" y="0" font-size="32" font-family="Liberation Sans, sans-serif" stroke="#000" stroke-width="0.3" xml:space="preserve">50</text></g>
<g transform="translate(391.00,45.50) scale(1.0,1.06)"><path transform="translate(0.00,0) scale(0.01562,-0.01562)" d="M515,0L696,0L696,1409L530,1409L197,1180L197,1010L515,1237Z" stroke="#000" stroke-width="19.2"/><text x="17.80" y="0" font-size="32" font-family="Liberation Sans, sans-serif" stroke="#000" stroke-width="0.3" xml:space="preserve">000</text></g>
<g transform="translate(421.60,96.80) scale(1.0,1.08)"><text x="0.00" y="0" font-size="32" font-family="Liberation Sans, sans-serif" stroke="#000" stroke-width="0.3" xml:space="preserve">M</text></g>
<path d="M239.20,23.30L249.20,33.30M239.20,33.30L249.20,23.30M323.80,26.50L333.80,36.50M323.80,36.50L333.80,26.50M466.10,28.70L476.10,38.70M466.10,38.70L476.10,28.70" stroke="#000" stroke-width="2.7" fill="none"/>
<text x="449.4" y="77.8" font-size="19" font-family="Liberation Sans, sans-serif">+</text>
<g transform="translate(704.00,179.00) scale(1.02,1.08)"><text x="0.00" y="0" font-size="32" font-family="Liberation Sans, sans-serif" stroke="#000" stroke-width="0.3" xml:space="preserve">24 eV</text></g>
<g transform="translate(705.30,367.00) scale(1.025,1.08)"><text x="0.00" y="0" font-size="32" font-family="Liberation Sans, sans-serif" stroke="#000" stroke-width="0.3" xml:space="preserve">20 eV</text></g>
<g transform="translate(702.50,536.80) scale(1.0,1.0)"><path transform="translate(0.00,0) scale(0.01562,-0.01562)" d="M515,0L696,0L696,1409L530,1409L197,1180L197,1010L515,1237Z" stroke="#000" stroke-width="19.2"/><text x="17.80" y="0" font-size="32" font-family="Liberation Sans, sans-serif" stroke="#000" stroke-width="0.3" xml:space="preserve">6 eV</text></g>
<g transform="translate(705.20,570.60) scale(1.0,1.0)"><text x="0.00" y="0" font-size="32" font-family="Liberation Sans, sans-serif" stroke="#000" stroke-width="0.3" xml:space="preserve">SB</text></g>
<path d="M793.9,343L795,347.8" stroke="#444" stroke-width="1.2" stroke-linecap="round"/>
<circle cx="794.4" cy="156" r="0.7" fill="#bbb"/>
</g>
</svg></body></html>
